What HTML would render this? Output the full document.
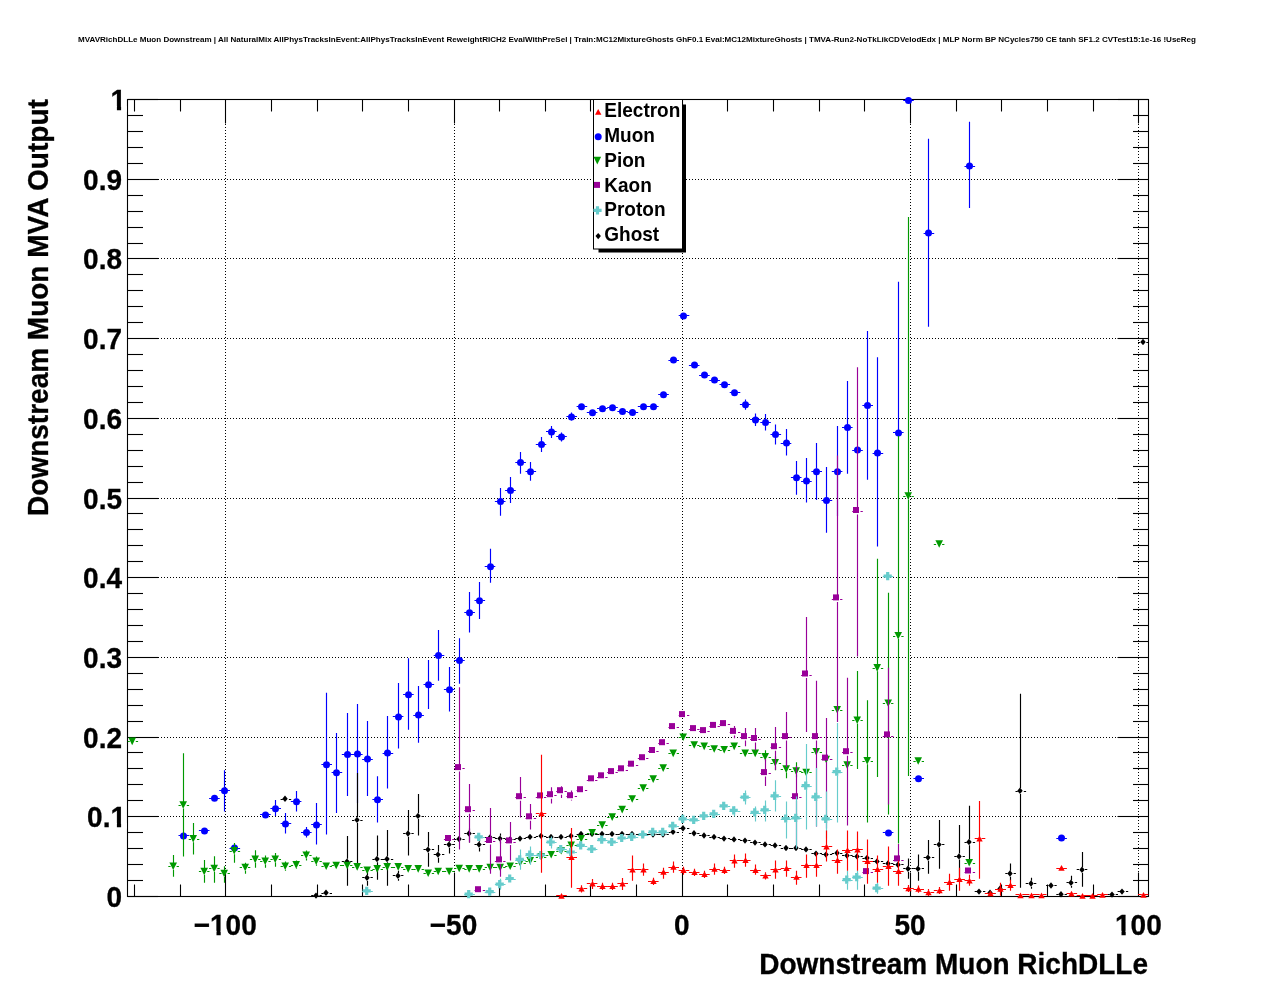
<!DOCTYPE html><html><head><meta charset="utf-8"><title>chart</title><style>html,body{margin:0;padding:0;background:#fff}body{width:1276px;height:996px;position:relative;overflow:hidden}</style></head><body><svg width="1276" height="996" viewBox="0 0 1276 996" style="position:absolute;left:0;top:0;will-change:transform" font-family="Liberation Sans, sans-serif" font-weight="bold">
<rect x="0" y="0" width="1276" height="996" fill="#fff"/>
<g stroke="#000" stroke-width="1" stroke-dasharray="1 2" fill="none" shape-rendering="crispEdges">
<line x1="225.5" y1="99.5" x2="225.5" y2="896.5"/>
<line x1="454.5" y1="99.5" x2="454.5" y2="896.5"/>
<line x1="682.5" y1="99.5" x2="682.5" y2="896.5"/>
<line x1="910.5" y1="99.5" x2="910.5" y2="896.5"/>
<line x1="1138.5" y1="99.5" x2="1138.5" y2="896.5"/>
<line x1="127.5" y1="816.5" x2="1148.5" y2="816.5"/>
<line x1="127.5" y1="737.5" x2="1148.5" y2="737.5"/>
<line x1="127.5" y1="657.5" x2="1148.5" y2="657.5"/>
<line x1="127.5" y1="577.5" x2="1148.5" y2="577.5"/>
<line x1="127.5" y1="498.5" x2="1148.5" y2="498.5"/>
<line x1="127.5" y1="418.5" x2="1148.5" y2="418.5"/>
<line x1="127.5" y1="338.5" x2="1148.5" y2="338.5"/>
<line x1="127.5" y1="258.5" x2="1148.5" y2="258.5"/>
<line x1="127.5" y1="179.5" x2="1148.5" y2="179.5"/>
</g>
<g stroke="#000" stroke-width="1.1" fill="none">
<rect x="127.5" y="99.5" width="1021.0" height="797.0"/>
<line x1="134.5" y1="896.5" x2="134.5" y2="884.5"/>
<line x1="134.5" y1="99.5" x2="134.5" y2="111.5"/>
<line x1="180.5" y1="896.5" x2="180.5" y2="884.5"/>
<line x1="180.5" y1="99.5" x2="180.5" y2="111.5"/>
<line x1="225.5" y1="896.5" x2="225.5" y2="872.5"/>
<line x1="225.5" y1="99.5" x2="225.5" y2="123.5"/>
<line x1="271.5" y1="896.5" x2="271.5" y2="884.5"/>
<line x1="271.5" y1="99.5" x2="271.5" y2="111.5"/>
<line x1="317.5" y1="896.5" x2="317.5" y2="884.5"/>
<line x1="317.5" y1="99.5" x2="317.5" y2="111.5"/>
<line x1="362.5" y1="896.5" x2="362.5" y2="884.5"/>
<line x1="362.5" y1="99.5" x2="362.5" y2="111.5"/>
<line x1="408.5" y1="896.5" x2="408.5" y2="884.5"/>
<line x1="408.5" y1="99.5" x2="408.5" y2="111.5"/>
<line x1="454.5" y1="896.5" x2="454.5" y2="872.5"/>
<line x1="454.5" y1="99.5" x2="454.5" y2="123.5"/>
<line x1="499.5" y1="896.5" x2="499.5" y2="884.5"/>
<line x1="499.5" y1="99.5" x2="499.5" y2="111.5"/>
<line x1="545.5" y1="896.5" x2="545.5" y2="884.5"/>
<line x1="545.5" y1="99.5" x2="545.5" y2="111.5"/>
<line x1="590.5" y1="896.5" x2="590.5" y2="884.5"/>
<line x1="590.5" y1="99.5" x2="590.5" y2="111.5"/>
<line x1="636.5" y1="896.5" x2="636.5" y2="884.5"/>
<line x1="636.5" y1="99.5" x2="636.5" y2="111.5"/>
<line x1="682.5" y1="896.5" x2="682.5" y2="872.5"/>
<line x1="682.5" y1="99.5" x2="682.5" y2="123.5"/>
<line x1="727.5" y1="896.5" x2="727.5" y2="884.5"/>
<line x1="727.5" y1="99.5" x2="727.5" y2="111.5"/>
<line x1="773.5" y1="896.5" x2="773.5" y2="884.5"/>
<line x1="773.5" y1="99.5" x2="773.5" y2="111.5"/>
<line x1="819.5" y1="896.5" x2="819.5" y2="884.5"/>
<line x1="819.5" y1="99.5" x2="819.5" y2="111.5"/>
<line x1="864.5" y1="896.5" x2="864.5" y2="884.5"/>
<line x1="864.5" y1="99.5" x2="864.5" y2="111.5"/>
<line x1="910.5" y1="896.5" x2="910.5" y2="872.5"/>
<line x1="910.5" y1="99.5" x2="910.5" y2="123.5"/>
<line x1="956.5" y1="896.5" x2="956.5" y2="884.5"/>
<line x1="956.5" y1="99.5" x2="956.5" y2="111.5"/>
<line x1="1001.5" y1="896.5" x2="1001.5" y2="884.5"/>
<line x1="1001.5" y1="99.5" x2="1001.5" y2="111.5"/>
<line x1="1047.5" y1="896.5" x2="1047.5" y2="884.5"/>
<line x1="1047.5" y1="99.5" x2="1047.5" y2="111.5"/>
<line x1="1093.5" y1="896.5" x2="1093.5" y2="884.5"/>
<line x1="1093.5" y1="99.5" x2="1093.5" y2="111.5"/>
<line x1="1138.5" y1="896.5" x2="1138.5" y2="872.5"/>
<line x1="1138.5" y1="99.5" x2="1138.5" y2="123.5"/>
<line x1="127.5" y1="896.5" x2="158.5" y2="896.5"/>
<line x1="1148.5" y1="896.5" x2="1117.5" y2="896.5"/>
<line x1="127.5" y1="880.5" x2="143.0" y2="880.5"/>
<line x1="1148.5" y1="880.5" x2="1133.0" y2="880.5"/>
<line x1="127.5" y1="864.5" x2="143.0" y2="864.5"/>
<line x1="1148.5" y1="864.5" x2="1133.0" y2="864.5"/>
<line x1="127.5" y1="848.5" x2="143.0" y2="848.5"/>
<line x1="1148.5" y1="848.5" x2="1133.0" y2="848.5"/>
<line x1="127.5" y1="832.5" x2="143.0" y2="832.5"/>
<line x1="1148.5" y1="832.5" x2="1133.0" y2="832.5"/>
<line x1="127.5" y1="816.5" x2="158.5" y2="816.5"/>
<line x1="1148.5" y1="816.5" x2="1117.5" y2="816.5"/>
<line x1="127.5" y1="800.5" x2="143.0" y2="800.5"/>
<line x1="1148.5" y1="800.5" x2="1133.0" y2="800.5"/>
<line x1="127.5" y1="784.5" x2="143.0" y2="784.5"/>
<line x1="1148.5" y1="784.5" x2="1133.0" y2="784.5"/>
<line x1="127.5" y1="768.5" x2="143.0" y2="768.5"/>
<line x1="1148.5" y1="768.5" x2="1133.0" y2="768.5"/>
<line x1="127.5" y1="752.5" x2="143.0" y2="752.5"/>
<line x1="1148.5" y1="752.5" x2="1133.0" y2="752.5"/>
<line x1="127.5" y1="737.5" x2="158.5" y2="737.5"/>
<line x1="1148.5" y1="737.5" x2="1117.5" y2="737.5"/>
<line x1="127.5" y1="721.5" x2="143.0" y2="721.5"/>
<line x1="1148.5" y1="721.5" x2="1133.0" y2="721.5"/>
<line x1="127.5" y1="705.5" x2="143.0" y2="705.5"/>
<line x1="1148.5" y1="705.5" x2="1133.0" y2="705.5"/>
<line x1="127.5" y1="689.5" x2="143.0" y2="689.5"/>
<line x1="1148.5" y1="689.5" x2="1133.0" y2="689.5"/>
<line x1="127.5" y1="673.5" x2="143.0" y2="673.5"/>
<line x1="1148.5" y1="673.5" x2="1133.0" y2="673.5"/>
<line x1="127.5" y1="657.5" x2="158.5" y2="657.5"/>
<line x1="1148.5" y1="657.5" x2="1117.5" y2="657.5"/>
<line x1="127.5" y1="641.5" x2="143.0" y2="641.5"/>
<line x1="1148.5" y1="641.5" x2="1133.0" y2="641.5"/>
<line x1="127.5" y1="625.5" x2="143.0" y2="625.5"/>
<line x1="1148.5" y1="625.5" x2="1133.0" y2="625.5"/>
<line x1="127.5" y1="609.5" x2="143.0" y2="609.5"/>
<line x1="1148.5" y1="609.5" x2="1133.0" y2="609.5"/>
<line x1="127.5" y1="593.5" x2="143.0" y2="593.5"/>
<line x1="1148.5" y1="593.5" x2="1133.0" y2="593.5"/>
<line x1="127.5" y1="577.5" x2="158.5" y2="577.5"/>
<line x1="1148.5" y1="577.5" x2="1117.5" y2="577.5"/>
<line x1="127.5" y1="561.5" x2="143.0" y2="561.5"/>
<line x1="1148.5" y1="561.5" x2="1133.0" y2="561.5"/>
<line x1="127.5" y1="545.5" x2="143.0" y2="545.5"/>
<line x1="1148.5" y1="545.5" x2="1133.0" y2="545.5"/>
<line x1="127.5" y1="529.5" x2="143.0" y2="529.5"/>
<line x1="1148.5" y1="529.5" x2="1133.0" y2="529.5"/>
<line x1="127.5" y1="513.5" x2="143.0" y2="513.5"/>
<line x1="1148.5" y1="513.5" x2="1133.0" y2="513.5"/>
<line x1="127.5" y1="498.5" x2="158.5" y2="498.5"/>
<line x1="1148.5" y1="498.5" x2="1117.5" y2="498.5"/>
<line x1="127.5" y1="482.5" x2="143.0" y2="482.5"/>
<line x1="1148.5" y1="482.5" x2="1133.0" y2="482.5"/>
<line x1="127.5" y1="466.5" x2="143.0" y2="466.5"/>
<line x1="1148.5" y1="466.5" x2="1133.0" y2="466.5"/>
<line x1="127.5" y1="450.5" x2="143.0" y2="450.5"/>
<line x1="1148.5" y1="450.5" x2="1133.0" y2="450.5"/>
<line x1="127.5" y1="434.5" x2="143.0" y2="434.5"/>
<line x1="1148.5" y1="434.5" x2="1133.0" y2="434.5"/>
<line x1="127.5" y1="418.5" x2="158.5" y2="418.5"/>
<line x1="1148.5" y1="418.5" x2="1117.5" y2="418.5"/>
<line x1="127.5" y1="402.5" x2="143.0" y2="402.5"/>
<line x1="1148.5" y1="402.5" x2="1133.0" y2="402.5"/>
<line x1="127.5" y1="386.5" x2="143.0" y2="386.5"/>
<line x1="1148.5" y1="386.5" x2="1133.0" y2="386.5"/>
<line x1="127.5" y1="370.5" x2="143.0" y2="370.5"/>
<line x1="1148.5" y1="370.5" x2="1133.0" y2="370.5"/>
<line x1="127.5" y1="354.5" x2="143.0" y2="354.5"/>
<line x1="1148.5" y1="354.5" x2="1133.0" y2="354.5"/>
<line x1="127.5" y1="338.5" x2="158.5" y2="338.5"/>
<line x1="1148.5" y1="338.5" x2="1117.5" y2="338.5"/>
<line x1="127.5" y1="322.5" x2="143.0" y2="322.5"/>
<line x1="1148.5" y1="322.5" x2="1133.0" y2="322.5"/>
<line x1="127.5" y1="306.5" x2="143.0" y2="306.5"/>
<line x1="1148.5" y1="306.5" x2="1133.0" y2="306.5"/>
<line x1="127.5" y1="290.5" x2="143.0" y2="290.5"/>
<line x1="1148.5" y1="290.5" x2="1133.0" y2="290.5"/>
<line x1="127.5" y1="274.5" x2="143.0" y2="274.5"/>
<line x1="1148.5" y1="274.5" x2="1133.0" y2="274.5"/>
<line x1="127.5" y1="258.5" x2="158.5" y2="258.5"/>
<line x1="1148.5" y1="258.5" x2="1117.5" y2="258.5"/>
<line x1="127.5" y1="243.5" x2="143.0" y2="243.5"/>
<line x1="1148.5" y1="243.5" x2="1133.0" y2="243.5"/>
<line x1="127.5" y1="227.5" x2="143.0" y2="227.5"/>
<line x1="1148.5" y1="227.5" x2="1133.0" y2="227.5"/>
<line x1="127.5" y1="211.5" x2="143.0" y2="211.5"/>
<line x1="1148.5" y1="211.5" x2="1133.0" y2="211.5"/>
<line x1="127.5" y1="195.5" x2="143.0" y2="195.5"/>
<line x1="1148.5" y1="195.5" x2="1133.0" y2="195.5"/>
<line x1="127.5" y1="179.5" x2="158.5" y2="179.5"/>
<line x1="1148.5" y1="179.5" x2="1117.5" y2="179.5"/>
<line x1="127.5" y1="163.5" x2="143.0" y2="163.5"/>
<line x1="1148.5" y1="163.5" x2="1133.0" y2="163.5"/>
<line x1="127.5" y1="147.5" x2="143.0" y2="147.5"/>
<line x1="1148.5" y1="147.5" x2="1133.0" y2="147.5"/>
<line x1="127.5" y1="131.5" x2="143.0" y2="131.5"/>
<line x1="1148.5" y1="131.5" x2="1133.0" y2="131.5"/>
<line x1="127.5" y1="115.5" x2="143.0" y2="115.5"/>
<line x1="1148.5" y1="115.5" x2="1133.0" y2="115.5"/>
<line x1="127.5" y1="99.5" x2="158.5" y2="99.5"/>
<line x1="1148.5" y1="99.5" x2="1117.5" y2="99.5"/>
</g>
<clipPath id="cp"><rect x="127.5" y="95.5" width="1021.0" height="801.5"/></clipPath>
<clipPath id="cpm"><rect x="122.5" y="94.5" width="1031.0" height="807.0"/></clipPath>
<g>
<g stroke="#0000ff" stroke-width="1.15" fill="none" clip-path="url(#cp)">
<path d="M178.5 835.5H180.8M186.8 835.5H189.1"/>
<path d="M198.9 830.5H201.2M207.2 830.5H209.5"/>
<path d="M209.1 798.5H211.4M217.4 798.5H219.7"/>
<path d="M219.3 790.5H221.6M227.6 790.5H229.9"/>
<path d="M224.5 770.3V787.8M224.5 793.8V811.4"/>
<path d="M229.5 848.5H231.8M237.8 848.5H240.1"/>
<path d="M260.1 814.5H262.4M268.4 814.5H270.7"/>
<path d="M270.4 808.5H272.7M278.7 808.5H281.0"/>
<path d="M275.5 800.0V805.8M275.5 811.8V816.0"/>
<path d="M280.6 823.5H282.9M288.9 823.5H291.2"/>
<path d="M285.5 813.0V820.9M285.5 826.9V833.5"/>
<path d="M290.8 801.5H293.1M299.1 801.5H301.4"/>
<path d="M296.5 791.0V798.8M296.5 804.8V811.4"/>
<path d="M301.0 832.5H303.3M309.3 832.5H311.6"/>
<path d="M306.5 827.0V829.5M306.5 835.5V837.5"/>
<path d="M311.2 824.5H313.5M319.5 824.5H321.8"/>
<path d="M316.5 803.0V821.9M316.5 827.9V844.6"/>
<path d="M321.4 764.5H323.7M329.7 764.5H332.0"/>
<path d="M326.5 692.8V761.7M326.5 767.7V834.5"/>
<path d="M331.6 772.5H333.9M339.9 772.5H342.2"/>
<path d="M336.5 733.0V769.7M336.5 775.7V812.9"/>
<path d="M341.8 754.5H344.1M350.1 754.5H352.4"/>
<path d="M347.5 713.0V751.6M347.5 757.6V796.0"/>
<path d="M352.0 754.5H354.3M360.3 754.5H362.6"/>
<path d="M357.5 704.0V751.0M357.5 757.0V803.0"/>
<path d="M362.2 759.5H364.5M370.5 759.5H372.8"/>
<path d="M367.5 721.0V756.0M367.5 762.0V796.0"/>
<path d="M372.4 799.5H374.7M380.7 799.5H383.0"/>
<path d="M377.5 776.3V796.8M377.5 802.8V822.5"/>
<path d="M382.6 753.5H384.9M390.9 753.5H393.2"/>
<path d="M387.5 716.0V750.0M387.5 756.0V788.4"/>
<path d="M392.8 716.5H395.1M401.1 716.5H403.4"/>
<path d="M398.5 683.0V713.9M398.5 719.9V748.6"/>
<path d="M403.1 694.5H405.4M411.4 694.5H413.7"/>
<path d="M408.5 658.2V691.8M408.5 697.8V729.7"/>
<path d="M413.3 715.5H415.6M421.6 715.5H423.9"/>
<path d="M418.5 686.0V712.1M418.5 718.1V742.8"/>
<path d="M423.5 684.5H425.8M431.8 684.5H434.1"/>
<path d="M428.5 660.0V681.7M428.5 687.7V709.0"/>
<path d="M433.7 655.5H436.0M442.0 655.5H444.3"/>
<path d="M438.5 630.1V652.6M438.5 658.6V680.7"/>
<path d="M443.9 689.5H446.2M452.2 689.5H454.5"/>
<path d="M449.5 667.0V686.8M449.5 692.8V711.6"/>
<path d="M454.1 660.5H456.4M462.4 660.5H464.7"/>
<path d="M459.5 638.2V657.6M459.5 663.6V683.7"/>
<path d="M464.3 612.5H466.6M472.6 612.5H474.9"/>
<path d="M469.5 592.0V609.8M469.5 615.8V632.5"/>
<path d="M474.5 600.5H476.8M482.8 600.5H485.1"/>
<path d="M479.5 582.0V597.8M479.5 603.8V618.9"/>
<path d="M484.7 566.5H487.0M493.0 566.5H495.3"/>
<path d="M490.5 548.8V563.7M490.5 569.7V582.7"/>
<path d="M494.9 501.5H497.2M503.2 501.5H505.5"/>
<path d="M500.5 488.0V498.4M500.5 504.4V515.7"/>
<path d="M505.1 490.5H507.4M513.4 490.5H515.7"/>
<path d="M510.5 477.0V487.6M510.5 493.6V503.0"/>
<path d="M515.3 462.5H517.6M523.6 462.5H525.9"/>
<path d="M520.5 452.0V459.6M520.5 465.6V473.7"/>
<path d="M525.5 471.5H527.8M533.8 471.5H536.1"/>
<path d="M530.5 462.0V468.7M530.5 474.7V480.7"/>
<path d="M535.8 444.5H538.0M544.0 444.5H546.3"/>
<path d="M541.5 437.0V441.6M541.5 447.6V452.0"/>
<path d="M546.0 431.5H548.3M554.3 431.5H556.6"/>
<path d="M551.5 426.0V428.9M551.5 434.9V438.0"/>
<path d="M556.2 436.5H558.5M564.5 436.5H566.8"/>
<path d="M561.5 432.5V433.9M561.5 439.9V441.6"/>
<path d="M566.4 416.5H568.7M574.7 416.5H577.0"/>
<path d="M571.5 412.5V413.9M571.5 419.9V420.5"/>
<path d="M576.6 406.5H578.9M584.9 406.5H587.2"/>
<path d="M586.8 412.5H589.1M595.1 412.5H597.4"/>
<path d="M597.0 408.5H599.3M605.3 408.5H607.6"/>
<path d="M607.2 407.5H609.5M615.5 407.5H617.8"/>
<path d="M617.4 411.5H619.7M625.7 411.5H628.0"/>
<path d="M627.6 412.5H629.9M635.9 412.5H638.2"/>
<path d="M637.8 406.5H640.1M646.1 406.5H648.4"/>
<path d="M648.0 406.5H650.3M656.3 406.5H658.6"/>
<path d="M658.2 394.5H660.5M666.5 394.5H668.8"/>
<path d="M668.4 360.5H670.7M676.7 360.5H679.0"/>
<path d="M678.7 315.5H681.0M687.0 315.5H689.3"/>
<path d="M688.9 365.5H691.2M697.2 365.5H699.5"/>
<path d="M699.1 375.5H701.4M707.4 375.5H709.7"/>
<path d="M709.3 380.5H711.6M717.6 380.5H719.9"/>
<path d="M719.5 384.5H721.8M727.8 384.5H730.1"/>
<path d="M729.7 392.5H732.0M738.0 392.5H740.3"/>
<path d="M739.9 404.5H742.2M748.2 404.5H750.5"/>
<path d="M745.5 399.4V401.8M745.5 407.8V409.8"/>
<path d="M750.1 419.5H752.4M758.4 419.5H760.7"/>
<path d="M755.5 413.5V416.9M755.5 422.9V426.0"/>
<path d="M760.3 422.5H762.6M768.6 422.5H770.9"/>
<path d="M765.5 414.0V419.5M765.5 425.5V430.5"/>
<path d="M770.5 434.5H772.8M778.8 434.5H781.1"/>
<path d="M775.5 424.5V431.5M775.5 437.5V444.6"/>
<path d="M780.7 443.5H783.0M789.0 443.5H791.3"/>
<path d="M786.5 429.0V440.0M786.5 446.0V455.6"/>
<path d="M790.9 477.5H793.2M799.2 477.5H801.5"/>
<path d="M796.5 461.0V474.7M796.5 480.7V494.8"/>
<path d="M801.1 481.5H803.4M809.4 481.5H811.7"/>
<path d="M806.5 458.0V478.1M806.5 484.1V502.4"/>
<path d="M811.4 471.5H813.7M819.7 471.5H822.0"/>
<path d="M816.5 443.0V468.7M816.5 474.7V500.0"/>
<path d="M821.6 500.5H823.9M829.9 500.5H832.2"/>
<path d="M826.5 467.0V497.4M826.5 503.4V532.7"/>
<path d="M831.8 471.5H834.1M840.1 471.5H842.4"/>
<path d="M837.5 426.0V468.7M837.5 474.7V516.0"/>
<path d="M842.0 427.5H844.3M850.3 427.5H852.6"/>
<path d="M847.5 381.0V424.5M847.5 430.5V473.7"/>
<path d="M852.2 450.5H854.5M860.5 450.5H862.8"/>
<path d="M862.4 405.5H864.7M870.7 405.5H873.0"/>
<path d="M867.5 331.0V402.4M867.5 408.4V479.7"/>
<path d="M872.6 453.5H874.9M880.9 453.5H883.2"/>
<path d="M877.5 357.2V450.0M877.5 456.0V546.6"/>
<path d="M882.8 832.5H885.1M891.1 832.5H893.4"/>
<path d="M893.0 432.5H895.3M901.3 432.5H903.6"/>
<path d="M898.5 281.8V429.9M898.5 435.9V436.0"/>
<path d="M903.2 100.5H905.5M911.5 100.5H913.8"/>
<path d="M913.4 778.5H915.7M921.7 778.5H924.0"/>
<path d="M923.6 233.5H925.9M931.9 233.5H934.2"/>
<path d="M928.5 138.8V230.0M928.5 236.0V326.7"/>
<path d="M964.5 166.5H966.8M972.8 166.5H975.1"/>
<path d="M969.5 121.7V163.1M969.5 169.1V207.9"/>
<path d="M1056.3 838.5H1058.6M1064.6 838.5H1066.9"/>
</g><g clip-path="url(#cpm)">
<circle cx="183.5" cy="835.9" r="3.5" fill="#0000ff"/>
<circle cx="204.5" cy="830.9" r="3.5" fill="#0000ff"/>
<circle cx="214.5" cy="798.2" r="3.5" fill="#0000ff"/>
<circle cx="224.5" cy="790.8" r="3.5" fill="#0000ff"/>
<circle cx="234.5" cy="848.0" r="3.5" fill="#0000ff"/>
<circle cx="265.5" cy="814.9" r="3.5" fill="#0000ff"/>
<circle cx="275.5" cy="808.8" r="3.5" fill="#0000ff"/>
<circle cx="285.5" cy="823.9" r="3.5" fill="#0000ff"/>
<circle cx="296.5" cy="801.8" r="3.5" fill="#0000ff"/>
<circle cx="306.5" cy="832.5" r="3.5" fill="#0000ff"/>
<circle cx="316.5" cy="824.9" r="3.5" fill="#0000ff"/>
<circle cx="326.5" cy="764.7" r="3.5" fill="#0000ff"/>
<circle cx="336.5" cy="772.7" r="3.5" fill="#0000ff"/>
<circle cx="347.5" cy="754.6" r="3.5" fill="#0000ff"/>
<circle cx="357.5" cy="754.0" r="3.5" fill="#0000ff"/>
<circle cx="367.5" cy="759.0" r="3.5" fill="#0000ff"/>
<circle cx="377.5" cy="799.8" r="3.5" fill="#0000ff"/>
<circle cx="387.5" cy="753.0" r="3.5" fill="#0000ff"/>
<circle cx="398.5" cy="716.9" r="3.5" fill="#0000ff"/>
<circle cx="408.5" cy="694.8" r="3.5" fill="#0000ff"/>
<circle cx="418.5" cy="715.1" r="3.5" fill="#0000ff"/>
<circle cx="428.5" cy="684.7" r="3.5" fill="#0000ff"/>
<circle cx="438.5" cy="655.6" r="3.5" fill="#0000ff"/>
<circle cx="449.5" cy="689.8" r="3.5" fill="#0000ff"/>
<circle cx="459.5" cy="660.6" r="3.5" fill="#0000ff"/>
<circle cx="469.5" cy="612.8" r="3.5" fill="#0000ff"/>
<circle cx="479.5" cy="600.8" r="3.5" fill="#0000ff"/>
<circle cx="490.5" cy="566.7" r="3.5" fill="#0000ff"/>
<circle cx="500.5" cy="501.4" r="3.5" fill="#0000ff"/>
<circle cx="510.5" cy="490.6" r="3.5" fill="#0000ff"/>
<circle cx="520.5" cy="462.6" r="3.5" fill="#0000ff"/>
<circle cx="530.5" cy="471.7" r="3.5" fill="#0000ff"/>
<circle cx="541.5" cy="444.6" r="3.5" fill="#0000ff"/>
<circle cx="551.5" cy="431.9" r="3.5" fill="#0000ff"/>
<circle cx="561.5" cy="436.9" r="3.5" fill="#0000ff"/>
<circle cx="571.5" cy="416.9" r="3.5" fill="#0000ff"/>
<circle cx="581.5" cy="406.8" r="3.5" fill="#0000ff"/>
<circle cx="592.5" cy="412.8" r="3.5" fill="#0000ff"/>
<circle cx="602.5" cy="408.8" r="3.5" fill="#0000ff"/>
<circle cx="612.5" cy="407.8" r="3.5" fill="#0000ff"/>
<circle cx="622.5" cy="411.4" r="3.5" fill="#0000ff"/>
<circle cx="632.5" cy="412.4" r="3.5" fill="#0000ff"/>
<circle cx="643.5" cy="406.8" r="3.5" fill="#0000ff"/>
<circle cx="653.5" cy="406.8" r="3.5" fill="#0000ff"/>
<circle cx="663.5" cy="394.8" r="3.5" fill="#0000ff"/>
<circle cx="673.5" cy="360.0" r="3.5" fill="#0000ff"/>
<circle cx="683.5" cy="315.9" r="3.5" fill="#0000ff"/>
<circle cx="694.5" cy="365.1" r="3.5" fill="#0000ff"/>
<circle cx="704.5" cy="375.1" r="3.5" fill="#0000ff"/>
<circle cx="714.5" cy="380.1" r="3.5" fill="#0000ff"/>
<circle cx="724.5" cy="384.7" r="3.5" fill="#0000ff"/>
<circle cx="734.5" cy="392.8" r="3.5" fill="#0000ff"/>
<circle cx="745.5" cy="404.8" r="3.5" fill="#0000ff"/>
<circle cx="755.5" cy="419.9" r="3.5" fill="#0000ff"/>
<circle cx="765.5" cy="422.5" r="3.5" fill="#0000ff"/>
<circle cx="775.5" cy="434.5" r="3.5" fill="#0000ff"/>
<circle cx="786.5" cy="443.0" r="3.5" fill="#0000ff"/>
<circle cx="796.5" cy="477.7" r="3.5" fill="#0000ff"/>
<circle cx="806.5" cy="481.1" r="3.5" fill="#0000ff"/>
<circle cx="816.5" cy="471.7" r="3.5" fill="#0000ff"/>
<circle cx="826.5" cy="500.4" r="3.5" fill="#0000ff"/>
<circle cx="837.5" cy="471.7" r="3.5" fill="#0000ff"/>
<circle cx="847.5" cy="427.5" r="3.5" fill="#0000ff"/>
<circle cx="857.5" cy="450.0" r="3.5" fill="#0000ff"/>
<circle cx="867.5" cy="405.4" r="3.5" fill="#0000ff"/>
<circle cx="877.5" cy="453.0" r="3.5" fill="#0000ff"/>
<circle cx="888.5" cy="832.9" r="3.5" fill="#0000ff"/>
<circle cx="898.5" cy="432.9" r="3.5" fill="#0000ff"/>
<circle cx="908.5" cy="100.4" r="3.5" fill="#0000ff"/>
<circle cx="918.5" cy="778.7" r="3.5" fill="#0000ff"/>
<circle cx="928.5" cy="233.0" r="3.5" fill="#0000ff"/>
<circle cx="969.5" cy="166.1" r="3.5" fill="#0000ff"/>
<circle cx="1061.5" cy="838.0" r="3.5" fill="#0000ff"/>
</g>
<g stroke="#000000" stroke-width="1.15" fill="none" clip-path="url(#cp)">
<path d="M280.6 799.5H282.9M288.9 799.5H291.2"/>
<path d="M311.2 895.5H313.5M319.5 895.5H321.8"/>
<path d="M321.4 893.5H323.7M329.7 893.5H332.0"/>
<path d="M341.8 861.5H344.1M350.1 861.5H352.4"/>
<path d="M347.5 836.0V858.8M347.5 864.8V885.7"/>
<path d="M352.0 820.5H354.3M360.3 820.5H362.6"/>
<path d="M357.5 773.0V817.1M357.5 823.1V866.7"/>
<path d="M362.2 877.5H364.5M370.5 877.5H372.8"/>
<path d="M367.5 870.7V874.9M367.5 880.9V885.7"/>
<path d="M372.4 859.5H374.7M380.7 859.5H383.0"/>
<path d="M377.5 835.5V856.2M377.5 862.2V879.7"/>
<path d="M382.6 859.5H384.9M390.9 859.5H393.2"/>
<path d="M387.5 830.0V856.2M387.5 862.2V885.7"/>
<path d="M392.8 875.5H395.1M401.1 875.5H403.4"/>
<path d="M398.5 870.7V872.9M398.5 878.9V880.7"/>
<path d="M403.1 833.5H405.4M411.4 833.5H413.7"/>
<path d="M408.5 810.0V830.7M408.5 836.7V855.6"/>
<path d="M413.3 816.5H415.6M421.6 816.5H423.9"/>
<path d="M418.5 794.0V813.1M418.5 819.1V835.5"/>
<path d="M423.5 849.5H425.8M431.8 849.5H434.1"/>
<path d="M428.5 832.0V846.8M428.5 852.8V866.7"/>
<path d="M433.7 854.5H436.0M442.0 854.5H444.3"/>
<path d="M438.5 845.0V851.8M438.5 857.8V862.7"/>
<path d="M443.9 844.5H446.2M452.2 844.5H454.5"/>
<path d="M449.5 836.5V841.8M449.5 847.8V853.6"/>
<path d="M454.1 839.5H456.4M462.4 839.5H464.7"/>
<path d="M464.3 833.5H466.6M472.6 833.5H474.9"/>
<path d="M469.5 828.5V830.7M469.5 836.7V842.6"/>
<path d="M474.5 844.5H476.8M482.8 844.5H485.1"/>
<path d="M479.5 838.6V841.8M479.5 847.8V851.6"/>
<path d="M484.7 837.5H487.0M493.0 837.5H495.3"/>
<path d="M494.9 838.5H497.2M503.2 838.5H505.5"/>
<path d="M500.5 833.5V835.8M500.5 841.8V843.6"/>
<path d="M505.1 839.5H507.4M513.4 839.5H515.7"/>
<path d="M515.3 838.5H517.6M523.6 838.5H525.9"/>
<path d="M525.5 837.5H527.8M533.8 837.5H536.1"/>
<path d="M535.8 836.5H538.0M544.0 836.5H546.3"/>
<path d="M546.0 837.5H548.3M554.3 837.5H556.6"/>
<path d="M556.2 837.5H558.5M564.5 837.5H566.8"/>
<path d="M566.4 836.5H568.7M574.7 836.5H577.0"/>
<path d="M576.6 834.5H578.9M584.9 834.5H587.2"/>
<path d="M586.8 834.5H589.1M595.1 834.5H597.4"/>
<path d="M597.0 834.5H599.3M605.3 834.5H607.6"/>
<path d="M607.2 834.5H609.5M615.5 834.5H617.8"/>
<path d="M617.4 834.5H619.7M625.7 834.5H628.0"/>
<path d="M627.6 834.5H629.9M635.9 834.5H638.2"/>
<path d="M637.8 834.5H640.1M646.1 834.5H648.4"/>
<path d="M648.0 834.5H650.3M656.3 834.5H658.6"/>
<path d="M658.2 834.5H660.5M666.5 834.5H668.8"/>
<path d="M668.4 832.5H670.7M676.7 832.5H679.0"/>
<path d="M678.7 828.5H681.0M687.0 828.5H689.3"/>
<path d="M688.9 833.5H691.2M697.2 833.5H699.5"/>
<path d="M699.1 835.5H701.4M707.4 835.5H709.7"/>
<path d="M709.3 837.5H711.6M717.6 837.5H719.9"/>
<path d="M719.5 838.5H721.8M727.8 838.5H730.1"/>
<path d="M729.7 839.5H732.0M738.0 839.5H740.3"/>
<path d="M739.9 840.5H742.2M748.2 840.5H750.5"/>
<path d="M750.1 842.5H752.4M758.4 842.5H760.7"/>
<path d="M760.3 844.5H762.6M768.6 844.5H770.9"/>
<path d="M770.5 845.5H772.8M778.8 845.5H781.1"/>
<path d="M780.7 848.5H783.0M789.0 848.5H791.3"/>
<path d="M790.9 848.5H793.2M799.2 848.5H801.5"/>
<path d="M801.1 849.5H803.4M809.4 849.5H811.7"/>
<path d="M811.4 853.5H813.7M819.7 853.5H822.0"/>
<path d="M821.6 854.5H823.9M829.9 854.5H832.2"/>
<path d="M831.8 853.5H834.1M840.1 853.5H842.4"/>
<path d="M842.0 855.5H844.3M850.3 855.5H852.6"/>
<path d="M852.2 856.5H854.5M860.5 856.5H862.8"/>
<path d="M862.4 858.5H864.7M870.7 858.5H873.0"/>
<path d="M872.6 861.5H874.9M880.9 861.5H883.2"/>
<path d="M882.8 863.5H885.1M891.1 863.5H893.4"/>
<path d="M893.0 864.5H895.3M901.3 864.5H903.6"/>
<path d="M903.2 868.5H905.5M911.5 868.5H913.8"/>
<path d="M908.5 858.6V865.9M908.5 871.9V878.7"/>
<path d="M913.4 868.5H915.7M921.7 868.5H924.0"/>
<path d="M918.5 854.6V865.9M918.5 871.9V880.7"/>
<path d="M923.6 857.5H925.9M931.9 857.5H934.2"/>
<path d="M928.5 840.0V854.8M928.5 860.8V873.7"/>
<path d="M933.8 844.5H936.1M942.1 844.5H944.4"/>
<path d="M939.5 820.0V841.8M939.5 847.8V868.7"/>
<path d="M954.3 856.5H956.6M962.6 856.5H964.9"/>
<path d="M959.5 825.0V853.6M959.5 859.6V876.7"/>
<path d="M964.5 842.5H966.8M972.8 842.5H975.1"/>
<path d="M969.5 805.8V839.2M969.5 845.2V860.6"/>
<path d="M974.7 891.5H977.0M983.0 891.5H985.3"/>
<path d="M984.9 893.5H987.2M993.2 893.5H995.5"/>
<path d="M995.1 889.5H997.4M1003.4 889.5H1005.7"/>
<path d="M1005.3 873.5H1007.6M1013.6 873.5H1015.9"/>
<path d="M1010.5 863.6V870.7M1010.5 876.7V880.7"/>
<path d="M1015.5 791.5H1017.8M1023.8 791.5H1026.1"/>
<path d="M1020.5 693.8V788.0M1020.5 794.0V887.8"/>
<path d="M1025.7 883.5H1028.0M1034.0 883.5H1036.3"/>
<path d="M1031.5 877.7V880.7M1031.5 886.7V888.8"/>
<path d="M1046.1 885.5H1048.4M1054.4 885.5H1056.7"/>
<path d="M1056.3 894.5H1058.6M1064.6 894.5H1066.9"/>
<path d="M1066.5 882.5H1068.8M1074.8 882.5H1077.1"/>
<path d="M1071.5 875.7V879.9M1071.5 885.9V887.8"/>
<path d="M1076.7 869.5H1079.0M1085.0 869.5H1087.3"/>
<path d="M1082.5 852.0V866.9M1082.5 872.9V886.7"/>
<path d="M1107.4 894.5H1109.7M1115.7 894.5H1118.0"/>
<path d="M1117.6 891.5H1119.9M1125.9 891.5H1128.2"/>
<path d="M1138.0 342.5H1140.3M1146.3 342.5H1148.6"/>
</g><g clip-path="url(#cpm)">
<path d="M285.0 795.6L287.7 798.8L285.0 802.0L282.3 798.8Z" fill="#000000"/>
<path d="M316.0 892.4L318.7 895.6L316.0 898.8L313.3 895.6Z" fill="#000000"/>
<path d="M326.0 889.6L328.7 892.8L326.0 896.0L323.3 892.8Z" fill="#000000"/>
<path d="M347.0 858.4L349.7 861.6L347.0 864.8L344.3 861.6Z" fill="#000000"/>
<path d="M357.0 816.7L359.7 819.9L357.0 823.1L354.3 819.9Z" fill="#000000"/>
<path d="M367.0 874.5L369.7 877.7L367.0 880.9L364.3 877.7Z" fill="#000000"/>
<path d="M377.0 855.8L379.7 859.0L377.0 862.2L374.3 859.0Z" fill="#000000"/>
<path d="M387.0 855.8L389.7 859.0L387.0 862.2L384.3 859.0Z" fill="#000000"/>
<path d="M398.0 872.5L400.7 875.7L398.0 878.9L395.3 875.7Z" fill="#000000"/>
<path d="M408.0 830.3L410.7 833.5L408.0 836.7L405.3 833.5Z" fill="#000000"/>
<path d="M418.0 812.7L420.7 815.9L418.0 819.1L415.3 815.9Z" fill="#000000"/>
<path d="M428.0 846.4L430.7 849.6L428.0 852.8L425.3 849.6Z" fill="#000000"/>
<path d="M438.0 851.4L440.7 854.6L438.0 857.8L435.3 854.6Z" fill="#000000"/>
<path d="M449.0 841.4L451.7 844.6L449.0 847.8L446.3 844.6Z" fill="#000000"/>
<path d="M459.0 835.8L461.7 839.0L459.0 842.2L456.3 839.0Z" fill="#000000"/>
<path d="M469.0 830.3L471.7 833.5L469.0 836.7L466.3 833.5Z" fill="#000000"/>
<path d="M479.0 841.4L481.7 844.6L479.0 847.8L476.3 844.6Z" fill="#000000"/>
<path d="M490.0 834.3L492.7 837.5L490.0 840.7L487.3 837.5Z" fill="#000000"/>
<path d="M500.0 835.4L502.7 838.6L500.0 841.8L497.3 838.6Z" fill="#000000"/>
<path d="M510.0 836.2L512.7 839.4L510.0 842.6L507.3 839.4Z" fill="#000000"/>
<path d="M520.0 835.4L522.7 838.6L520.0 841.8L517.3 838.6Z" fill="#000000"/>
<path d="M530.0 833.7L532.7 836.9L530.0 840.1L527.3 836.9Z" fill="#000000"/>
<path d="M541.0 832.7L543.7 835.9L541.0 839.1L538.3 835.9Z" fill="#000000"/>
<path d="M551.0 833.7L553.7 836.9L551.0 840.1L548.3 836.9Z" fill="#000000"/>
<path d="M561.0 833.7L563.7 836.9L561.0 840.1L558.3 836.9Z" fill="#000000"/>
<path d="M571.0 832.7L573.7 835.9L571.0 839.1L568.3 835.9Z" fill="#000000"/>
<path d="M581.0 830.7L583.7 833.9L581.0 837.1L578.3 833.9Z" fill="#000000"/>
<path d="M592.0 830.7L594.7 833.9L592.0 837.1L589.3 833.9Z" fill="#000000"/>
<path d="M602.0 830.7L604.7 833.9L602.0 837.1L599.3 833.9Z" fill="#000000"/>
<path d="M612.0 830.7L614.7 833.9L612.0 837.1L609.3 833.9Z" fill="#000000"/>
<path d="M622.0 830.7L624.7 833.9L622.0 837.1L619.3 833.9Z" fill="#000000"/>
<path d="M632.0 830.7L634.7 833.9L632.0 837.1L629.3 833.9Z" fill="#000000"/>
<path d="M643.0 831.2L645.7 834.4L643.0 837.6L640.3 834.4Z" fill="#000000"/>
<path d="M653.0 831.3L655.7 834.5L653.0 837.7L650.3 834.5Z" fill="#000000"/>
<path d="M663.0 831.3L665.7 834.5L663.0 837.7L660.3 834.5Z" fill="#000000"/>
<path d="M673.0 828.7L675.7 831.9L673.0 835.1L670.3 831.9Z" fill="#000000"/>
<path d="M683.0 825.1L685.7 828.3L683.0 831.5L680.3 828.3Z" fill="#000000"/>
<path d="M694.0 830.1L696.7 833.3L694.0 836.5L691.3 833.3Z" fill="#000000"/>
<path d="M704.0 832.3L706.7 835.5L704.0 838.7L701.3 835.5Z" fill="#000000"/>
<path d="M714.0 833.7L716.7 836.9L714.0 840.1L711.3 836.9Z" fill="#000000"/>
<path d="M724.0 835.4L726.7 838.6L724.0 841.8L721.3 838.6Z" fill="#000000"/>
<path d="M734.0 836.2L736.7 839.4L734.0 842.6L731.3 839.4Z" fill="#000000"/>
<path d="M745.0 837.4L747.7 840.6L745.0 843.8L742.3 840.6Z" fill="#000000"/>
<path d="M755.0 839.4L757.7 842.6L755.0 845.8L752.3 842.6Z" fill="#000000"/>
<path d="M765.0 841.2L767.7 844.4L765.0 847.6L762.3 844.4Z" fill="#000000"/>
<path d="M775.0 842.2L777.7 845.4L775.0 848.6L772.3 845.4Z" fill="#000000"/>
<path d="M786.0 844.8L788.7 848.0L786.0 851.2L783.3 848.0Z" fill="#000000"/>
<path d="M796.0 844.8L798.7 848.0L796.0 851.2L793.3 848.0Z" fill="#000000"/>
<path d="M806.0 846.2L808.7 849.4L806.0 852.6L803.3 849.4Z" fill="#000000"/>
<path d="M816.0 850.4L818.7 853.6L816.0 856.8L813.3 853.6Z" fill="#000000"/>
<path d="M826.0 851.4L828.7 854.6L826.0 857.8L823.3 854.6Z" fill="#000000"/>
<path d="M837.0 849.8L839.7 853.0L837.0 856.2L834.3 853.0Z" fill="#000000"/>
<path d="M847.0 852.4L849.7 855.6L847.0 858.8L844.3 855.6Z" fill="#000000"/>
<path d="M857.0 853.2L859.7 856.4L857.0 859.6L854.3 856.4Z" fill="#000000"/>
<path d="M867.0 854.8L869.7 858.0L867.0 861.2L864.3 858.0Z" fill="#000000"/>
<path d="M877.0 858.2L879.7 861.4L877.0 864.6L874.3 861.4Z" fill="#000000"/>
<path d="M888.0 860.3L890.7 863.5L888.0 866.7L885.3 863.5Z" fill="#000000"/>
<path d="M898.0 861.5L900.7 864.7L898.0 867.9L895.3 864.7Z" fill="#000000"/>
<path d="M908.0 865.5L910.7 868.7L908.0 871.9L905.3 868.7Z" fill="#000000"/>
<path d="M918.0 865.5L920.7 868.7L918.0 871.9L915.3 868.7Z" fill="#000000"/>
<path d="M928.0 854.4L930.7 857.6L928.0 860.8L925.3 857.6Z" fill="#000000"/>
<path d="M939.0 841.4L941.7 844.6L939.0 847.8L936.3 844.6Z" fill="#000000"/>
<path d="M959.0 853.2L961.7 856.4L959.0 859.6L956.3 856.4Z" fill="#000000"/>
<path d="M969.0 838.8L971.7 842.0L969.0 845.2L966.3 842.0Z" fill="#000000"/>
<path d="M979.0 888.4L981.7 891.6L979.0 894.8L976.3 891.6Z" fill="#000000"/>
<path d="M990.0 889.6L992.7 892.8L990.0 896.0L987.3 892.8Z" fill="#000000"/>
<path d="M1000.0 885.6L1002.7 888.8L1000.0 892.0L997.3 888.8Z" fill="#000000"/>
<path d="M1010.0 870.3L1012.7 873.5L1010.0 876.7L1007.3 873.5Z" fill="#000000"/>
<path d="M1020.0 787.6L1022.7 790.8L1020.0 794.0L1017.3 790.8Z" fill="#000000"/>
<path d="M1031.0 880.3L1033.7 883.5L1031.0 886.7L1028.3 883.5Z" fill="#000000"/>
<path d="M1051.0 882.3L1053.7 885.5L1051.0 888.7L1048.3 885.5Z" fill="#000000"/>
<path d="M1061.0 891.0L1063.7 894.2L1061.0 897.4L1058.3 894.2Z" fill="#000000"/>
<path d="M1071.0 879.5L1073.7 882.7L1071.0 885.9L1068.3 882.7Z" fill="#000000"/>
<path d="M1082.0 866.5L1084.7 869.7L1082.0 872.9L1079.3 869.7Z" fill="#000000"/>
<path d="M1112.0 891.4L1114.7 894.6L1112.0 897.8L1109.3 894.6Z" fill="#000000"/>
<path d="M1122.0 888.4L1124.7 891.6L1122.0 894.8L1119.3 891.6Z" fill="#000000"/>
<path d="M1143.0 338.8L1145.7 342.0L1143.0 345.2L1140.3 342.0Z" fill="#000000"/>
</g>
<g stroke="#009900" stroke-width="1.15" fill="none" clip-path="url(#cp)">
<path d="M127.5 741.5H129.8M135.8 741.5H138.1"/>
<path d="M168.3 866.5H170.6M176.6 866.5H178.9"/>
<path d="M173.5 855.0V863.7M173.5 869.7V876.7"/>
<path d="M178.5 805.5H180.8M186.8 805.5H189.1"/>
<path d="M183.5 753.2V802.4M183.5 808.4V856.6"/>
<path d="M188.7 839.5H191.0M197.0 839.5H199.3"/>
<path d="M193.5 823.1V836.2M193.5 842.2V854.6"/>
<path d="M198.9 871.5H201.2M207.2 871.5H209.5"/>
<path d="M204.5 860.0V868.9M204.5 874.9V882.7"/>
<path d="M209.1 868.5H211.4M217.4 868.5H219.7"/>
<path d="M214.5 856.2V865.9M214.5 871.9V882.7"/>
<path d="M219.3 873.5H221.6M227.6 873.5H229.9"/>
<path d="M224.5 866.3V870.9M224.5 876.9V882.7"/>
<path d="M229.5 851.5H231.8M237.8 851.5H240.1"/>
<path d="M234.5 843.0V848.2M234.5 854.2V862.7"/>
<path d="M239.7 867.5H242.0M248.0 867.5H250.3"/>
<path d="M245.5 862.7V864.9M245.5 870.9V873.7"/>
<path d="M249.9 859.5H252.2M258.2 859.5H260.5"/>
<path d="M255.5 850.2V856.8M255.5 862.8V867.7"/>
<path d="M260.1 861.5H262.4M268.4 861.5H270.7"/>
<path d="M265.5 855.6V858.6M265.5 864.6V867.7"/>
<path d="M270.4 859.5H272.7M278.7 859.5H281.0"/>
<path d="M275.5 853.0V856.6M275.5 862.6V866.7"/>
<path d="M280.6 866.5H282.9M288.9 866.5H291.2"/>
<path d="M285.5 861.6V863.7M285.5 869.7V870.7"/>
<path d="M290.8 865.5H293.1M299.1 865.5H301.4"/>
<path d="M296.5 860.6V862.3M296.5 868.3V868.7"/>
<path d="M301.0 855.5H303.3M309.3 855.5H311.6"/>
<path d="M306.5 850.6V852.6M306.5 858.6V860.6"/>
<path d="M311.2 861.5H313.5M319.5 861.5H321.8"/>
<path d="M316.5 856.6V858.6M316.5 864.6V865.7"/>
<path d="M321.4 866.5H323.7M329.7 866.5H332.0"/>
<path d="M331.6 865.5H333.9M339.9 865.5H342.2"/>
<path d="M341.8 865.5H344.1M350.1 865.5H352.4"/>
<path d="M352.0 867.5H354.3M360.3 867.5H362.6"/>
<path d="M362.2 870.5H364.5M370.5 870.5H372.8"/>
<path d="M372.4 869.5H374.7M380.7 869.5H383.0"/>
<path d="M382.6 867.5H384.9M390.9 867.5H393.2"/>
<path d="M392.8 867.5H395.1M401.1 867.5H403.4"/>
<path d="M403.1 869.5H405.4M411.4 869.5H413.7"/>
<path d="M413.3 869.5H415.6M421.6 869.5H423.9"/>
<path d="M423.5 873.5H425.8M431.8 873.5H434.1"/>
<path d="M433.7 871.5H436.0M442.0 871.5H444.3"/>
<path d="M443.9 871.5H446.2M452.2 871.5H454.5"/>
<path d="M454.1 868.5H456.4M462.4 868.5H464.7"/>
<path d="M464.3 869.5H466.6M472.6 869.5H474.9"/>
<path d="M474.5 869.5H476.8M482.8 869.5H485.1"/>
<path d="M484.7 867.5H487.0M493.0 867.5H495.3"/>
<path d="M494.9 867.5H497.2M503.2 867.5H505.5"/>
<path d="M505.1 866.5H507.4M513.4 866.5H515.7"/>
<path d="M515.3 863.5H517.6M523.6 863.5H525.9"/>
<path d="M525.5 861.5H527.8M533.8 861.5H536.1"/>
<path d="M535.8 857.5H538.0M544.0 857.5H546.3"/>
<path d="M546.0 855.5H548.3M554.3 855.5H556.6"/>
<path d="M556.2 851.5H558.5M564.5 851.5H566.8"/>
<path d="M566.4 845.5H568.7M574.7 845.5H577.0"/>
<path d="M576.6 839.5H578.9M584.9 839.5H587.2"/>
<path d="M586.8 833.5H589.1M595.1 833.5H597.4"/>
<path d="M597.0 825.5H599.3M605.3 825.5H607.6"/>
<path d="M607.2 817.5H609.5M615.5 817.5H617.8"/>
<path d="M617.4 809.5H619.7M625.7 809.5H628.0"/>
<path d="M627.6 799.5H629.9M635.9 799.5H638.2"/>
<path d="M637.8 788.5H640.1M646.1 788.5H648.4"/>
<path d="M648.0 779.5H650.3M656.3 779.5H658.6"/>
<path d="M658.2 768.5H660.5M666.5 768.5H668.8"/>
<path d="M668.4 753.5H670.7M676.7 753.5H679.0"/>
<path d="M678.7 737.5H681.0M687.0 737.5H689.3"/>
<path d="M688.9 745.5H691.2M697.2 745.5H699.5"/>
<path d="M699.1 746.5H701.4M707.4 746.5H709.7"/>
<path d="M709.3 749.5H711.6M717.6 749.5H719.9"/>
<path d="M719.5 750.5H721.8M727.8 750.5H730.1"/>
<path d="M729.7 746.5H732.0M738.0 746.5H740.3"/>
<path d="M739.9 753.5H742.2M748.2 753.5H750.5"/>
<path d="M750.1 753.5H752.4M758.4 753.5H760.7"/>
<path d="M760.3 757.5H762.6M768.6 757.5H770.9"/>
<path d="M765.5 750.2V754.2M765.5 760.2V761.2"/>
<path d="M770.5 763.5H772.8M778.8 763.5H781.1"/>
<path d="M775.5 756.2V760.2M775.5 766.2V770.3"/>
<path d="M780.7 769.5H783.0M789.0 769.5H791.3"/>
<path d="M786.5 760.2V766.5M786.5 772.5V778.3"/>
<path d="M790.9 771.5H793.2M799.2 771.5H801.5"/>
<path d="M796.5 762.2V768.5M796.5 774.5V777.3"/>
<path d="M801.1 772.5H803.4M809.4 772.5H811.7"/>
<path d="M811.4 752.5H813.7M819.7 752.5H822.0"/>
<path d="M821.6 759.5H823.9M829.9 759.5H832.2"/>
<path d="M831.8 710.5H834.1M840.1 710.5H842.4"/>
<path d="M842.0 765.5H844.3M850.3 765.5H852.6"/>
<path d="M852.2 720.5H854.5M860.5 720.5H862.8"/>
<path d="M857.5 671.0V717.7M857.5 723.7V769.0"/>
<path d="M862.4 761.5H864.7M870.7 761.5H873.0"/>
<path d="M867.5 700.2V758.2M867.5 764.2V822.5"/>
<path d="M872.6 668.5H874.9M880.9 668.5H883.2"/>
<path d="M877.5 558.8V665.3M877.5 671.3V777.0"/>
<path d="M882.8 703.5H885.1M891.1 703.5H893.4"/>
<path d="M888.5 592.8V700.6M888.5 706.6V814.5"/>
<path d="M893.0 636.5H895.3M901.3 636.5H903.6"/>
<path d="M898.5 436.0V633.1M898.5 639.1V843.6"/>
<path d="M903.2 496.5H905.5M911.5 496.5H913.8"/>
<path d="M908.5 216.9V493.4M908.5 499.4V775.9"/>
<path d="M913.4 761.5H915.7M921.7 761.5H924.0"/>
<path d="M933.8 544.5H936.1M942.1 544.5H944.4"/>
<path d="M964.5 863.5H966.8M972.8 863.5H975.1"/>
</g><g clip-path="url(#cpm)">
<path d="M128.4 737.6L136.0 737.6L132.2 745.2Z" fill="#009900"/>
<path d="M169.4 862.5L177.0 862.5L173.2 870.1Z" fill="#009900"/>
<path d="M179.4 801.2L187.0 801.2L183.2 808.8Z" fill="#009900"/>
<path d="M189.4 835.0L197.0 835.0L193.2 842.6Z" fill="#009900"/>
<path d="M200.4 867.7L208.0 867.7L204.2 875.3Z" fill="#009900"/>
<path d="M210.4 864.7L218.0 864.7L214.2 872.3Z" fill="#009900"/>
<path d="M220.4 869.7L228.0 869.7L224.2 877.3Z" fill="#009900"/>
<path d="M230.4 847.0L238.0 847.0L234.2 854.6Z" fill="#009900"/>
<path d="M241.4 863.7L249.0 863.7L245.2 871.3Z" fill="#009900"/>
<path d="M251.4 855.6L259.0 855.6L255.2 863.2Z" fill="#009900"/>
<path d="M261.4 857.4L269.0 857.4L265.2 865.0Z" fill="#009900"/>
<path d="M271.4 855.4L279.0 855.4L275.2 863.0Z" fill="#009900"/>
<path d="M281.4 862.5L289.0 862.5L285.2 870.1Z" fill="#009900"/>
<path d="M292.4 861.1L300.0 861.1L296.2 868.7Z" fill="#009900"/>
<path d="M302.4 851.4L310.0 851.4L306.2 859.0Z" fill="#009900"/>
<path d="M312.4 857.4L320.0 857.4L316.2 865.0Z" fill="#009900"/>
<path d="M322.4 862.5L330.0 862.5L326.2 870.1Z" fill="#009900"/>
<path d="M332.4 861.7L340.0 861.7L336.2 869.3Z" fill="#009900"/>
<path d="M343.4 861.7L351.0 861.7L347.2 869.3Z" fill="#009900"/>
<path d="M353.4 863.1L361.0 863.1L357.2 870.7Z" fill="#009900"/>
<path d="M363.4 866.5L371.0 866.5L367.2 874.1Z" fill="#009900"/>
<path d="M373.4 865.1L381.0 865.1L377.2 872.7Z" fill="#009900"/>
<path d="M383.4 863.1L391.0 863.1L387.2 870.7Z" fill="#009900"/>
<path d="M394.4 863.1L402.0 863.1L398.2 870.7Z" fill="#009900"/>
<path d="M404.4 865.1L412.0 865.1L408.2 872.7Z" fill="#009900"/>
<path d="M414.4 865.1L422.0 865.1L418.2 872.7Z" fill="#009900"/>
<path d="M424.4 869.5L432.0 869.5L428.2 877.1Z" fill="#009900"/>
<path d="M434.4 867.7L442.0 867.7L438.2 875.3Z" fill="#009900"/>
<path d="M445.4 867.7L453.0 867.7L449.2 875.3Z" fill="#009900"/>
<path d="M455.4 864.7L463.0 864.7L459.2 872.3Z" fill="#009900"/>
<path d="M465.4 865.1L473.0 865.1L469.2 872.7Z" fill="#009900"/>
<path d="M475.4 865.1L483.0 865.1L479.2 872.7Z" fill="#009900"/>
<path d="M486.4 863.7L494.0 863.7L490.2 871.3Z" fill="#009900"/>
<path d="M496.4 863.7L504.0 863.7L500.2 871.3Z" fill="#009900"/>
<path d="M506.4 862.5L514.0 862.5L510.2 870.1Z" fill="#009900"/>
<path d="M516.4 859.0L524.0 859.0L520.2 866.6Z" fill="#009900"/>
<path d="M526.4 857.0L534.0 857.0L530.2 864.6Z" fill="#009900"/>
<path d="M537.4 853.0L545.0 853.0L541.2 860.6Z" fill="#009900"/>
<path d="M547.4 851.0L555.0 851.0L551.2 858.6Z" fill="#009900"/>
<path d="M557.4 847.0L565.0 847.0L561.2 854.6Z" fill="#009900"/>
<path d="M567.4 841.6L575.0 841.6L571.2 849.2Z" fill="#009900"/>
<path d="M577.4 835.0L585.0 835.0L581.2 842.6Z" fill="#009900"/>
<path d="M588.4 828.9L596.0 828.9L592.2 836.5Z" fill="#009900"/>
<path d="M598.4 821.3L606.0 821.3L602.2 828.9Z" fill="#009900"/>
<path d="M608.4 813.3L616.0 813.3L612.2 820.9Z" fill="#009900"/>
<path d="M618.4 805.8L626.0 805.8L622.2 813.4Z" fill="#009900"/>
<path d="M628.4 795.2L636.0 795.2L632.2 802.8Z" fill="#009900"/>
<path d="M639.4 784.3L647.0 784.3L643.2 791.9Z" fill="#009900"/>
<path d="M649.4 775.3L657.0 775.3L653.2 782.9Z" fill="#009900"/>
<path d="M659.4 764.3L667.0 764.3L663.2 771.9Z" fill="#009900"/>
<path d="M669.4 749.6L677.0 749.6L673.2 757.2Z" fill="#009900"/>
<path d="M679.4 733.5L687.0 733.5L683.2 741.1Z" fill="#009900"/>
<path d="M690.4 741.2L698.0 741.2L694.2 748.8Z" fill="#009900"/>
<path d="M700.4 742.6L708.0 742.6L704.2 750.2Z" fill="#009900"/>
<path d="M710.4 745.2L718.0 745.2L714.2 752.8Z" fill="#009900"/>
<path d="M720.4 746.0L728.0 746.0L724.2 753.6Z" fill="#009900"/>
<path d="M730.4 742.6L738.0 742.6L734.2 750.2Z" fill="#009900"/>
<path d="M741.4 749.6L749.0 749.6L745.2 757.2Z" fill="#009900"/>
<path d="M751.4 749.6L759.0 749.6L755.2 757.2Z" fill="#009900"/>
<path d="M761.4 753.0L769.0 753.0L765.2 760.6Z" fill="#009900"/>
<path d="M771.4 759.0L779.0 759.0L775.2 766.6Z" fill="#009900"/>
<path d="M782.4 765.3L790.0 765.3L786.2 772.9Z" fill="#009900"/>
<path d="M792.4 767.3L800.0 767.3L796.2 774.9Z" fill="#009900"/>
<path d="M802.4 768.7L810.0 768.7L806.2 776.3Z" fill="#009900"/>
<path d="M812.4 748.0L820.0 748.0L816.2 755.6Z" fill="#009900"/>
<path d="M822.4 755.7L830.0 755.7L826.2 763.3Z" fill="#009900"/>
<path d="M833.4 706.0L841.0 706.0L837.2 713.6Z" fill="#009900"/>
<path d="M843.4 761.3L851.0 761.3L847.2 768.9Z" fill="#009900"/>
<path d="M853.4 716.5L861.0 716.5L857.2 724.1Z" fill="#009900"/>
<path d="M863.4 757.0L871.0 757.0L867.2 764.6Z" fill="#009900"/>
<path d="M873.4 664.1L881.0 664.1L877.2 671.7Z" fill="#009900"/>
<path d="M884.4 699.4L892.0 699.4L888.2 707.0Z" fill="#009900"/>
<path d="M894.4 631.9L902.0 631.9L898.2 639.5Z" fill="#009900"/>
<path d="M904.4 492.2L912.0 492.2L908.2 499.8Z" fill="#009900"/>
<path d="M914.4 757.2L922.0 757.2L918.2 764.8Z" fill="#009900"/>
<path d="M935.4 540.2L943.0 540.2L939.2 547.8Z" fill="#009900"/>
<path d="M965.4 859.0L973.0 859.0L969.2 866.6Z" fill="#009900"/>
</g>
<g stroke="#990099" stroke-width="1.15" fill="none" clip-path="url(#cp)">
<path d="M443.9 839.5H446.2M452.2 839.5H454.5"/>
<path d="M454.1 768.5H456.4M462.4 768.5H464.7"/>
<path d="M459.5 687.3V766.0M459.5 771.6V849.6"/>
<path d="M464.3 810.5H466.6M472.6 810.5H474.9"/>
<path d="M469.5 784.0V808.1M469.5 813.7V842.6"/>
<path d="M474.5 890.5H476.8M482.8 890.5H485.1"/>
<path d="M484.7 841.5H487.0M493.0 841.5H495.3"/>
<path d="M490.5 808.0V838.9M490.5 844.5V873.7"/>
<path d="M494.9 861.5H497.2M503.2 861.5H505.5"/>
<path d="M500.5 838.6V858.3M500.5 863.9V876.7"/>
<path d="M505.1 842.5H507.4M513.4 842.5H515.7"/>
<path d="M510.5 822.0V839.3M510.5 844.9V860.6"/>
<path d="M515.3 797.5H517.6M523.6 797.5H525.9"/>
<path d="M520.5 777.0V795.1M520.5 800.7V817.5"/>
<path d="M525.5 818.5H527.8M533.8 818.5H536.1"/>
<path d="M530.5 804.0V815.2M530.5 820.8V829.5"/>
<path d="M535.8 797.5H538.0M544.0 797.5H546.3"/>
<path d="M546.0 795.5H548.3M554.3 795.5H556.6"/>
<path d="M551.5 787.3V793.1M551.5 798.7V803.4"/>
<path d="M556.2 791.5H558.5M564.5 791.5H566.8"/>
<path d="M561.5 786.3V789.1M561.5 794.7V798.0"/>
<path d="M566.4 796.5H568.7M574.7 796.5H577.0"/>
<path d="M571.5 790.4V794.1M571.5 799.7V800.4"/>
<path d="M576.6 790.5H578.9M584.9 790.5H587.2"/>
<path d="M586.8 780.5H589.1M595.1 780.5H597.4"/>
<path d="M597.0 777.5H599.3M605.3 777.5H607.6"/>
<path d="M607.2 772.5H609.5M615.5 772.5H617.8"/>
<path d="M617.4 770.5H619.7M625.7 770.5H628.0"/>
<path d="M627.6 765.5H629.9M635.9 765.5H638.2"/>
<path d="M637.8 758.5H640.1M646.1 758.5H648.4"/>
<path d="M648.0 751.5H650.3M656.3 751.5H658.6"/>
<path d="M658.2 743.5H660.5M666.5 743.5H668.8"/>
<path d="M668.4 727.5H670.7M676.7 727.5H679.0"/>
<path d="M678.7 715.5H681.0M687.0 715.5H689.3"/>
<path d="M688.9 729.5H691.2M697.2 729.5H699.5"/>
<path d="M699.1 731.5H701.4M707.4 731.5H709.7"/>
<path d="M709.3 726.5H711.6M717.6 726.5H719.9"/>
<path d="M719.5 724.5H721.8M727.8 724.5H730.1"/>
<path d="M729.7 732.5H732.0M738.0 732.5H740.3"/>
<path d="M734.5 726.1V729.8M734.5 735.4V738.2"/>
<path d="M739.9 737.5H742.2M748.2 737.5H750.5"/>
<path d="M745.5 728.1V735.0M745.5 740.6V746.2"/>
<path d="M750.1 739.5H752.4M758.4 739.5H760.7"/>
<path d="M755.5 728.1V736.9M755.5 742.5V750.2"/>
<path d="M760.3 773.5H762.6M768.6 773.5H770.9"/>
<path d="M765.5 759.0V771.0M765.5 776.6V786.0"/>
<path d="M770.5 747.5H772.8M778.8 747.5H781.1"/>
<path d="M775.5 727.0V745.1M775.5 750.7V770.0"/>
<path d="M780.7 737.5H783.0M789.0 737.5H791.3"/>
<path d="M786.5 712.0V735.0M786.5 740.6V767.0"/>
<path d="M790.9 797.5H793.2M799.2 797.5H801.5"/>
<path d="M796.5 766.0V795.1M796.5 800.7V848.0"/>
<path d="M801.1 675.5H803.4M809.4 675.5H811.7"/>
<path d="M806.5 617.0V672.4M806.5 678.0V732.0"/>
<path d="M811.4 737.5H813.7M819.7 737.5H822.0"/>
<path d="M816.5 680.7V735.0M816.5 740.6V826.5"/>
<path d="M821.6 759.5H823.9M829.9 759.5H832.2"/>
<path d="M826.5 718.0V756.5M826.5 762.1V828.5"/>
<path d="M831.8 599.5H834.1M840.1 599.5H842.4"/>
<path d="M837.5 455.6V596.3M837.5 601.9V722.0"/>
<path d="M842.0 752.5H844.3M850.3 752.5H852.6"/>
<path d="M847.5 677.7V750.1M847.5 755.7V825.5"/>
<path d="M852.2 511.5H854.5M860.5 511.5H862.8"/>
<path d="M857.5 367.3V508.9M857.5 514.5V656.6"/>
<path d="M862.4 872.5H864.7M870.7 872.5H873.0"/>
<path d="M882.8 736.5H885.1M891.1 736.5H893.4"/>
<path d="M888.5 667.7V733.3M888.5 738.9V804.4"/>
<path d="M893.0 860.5H895.3M901.3 860.5H903.6"/>
<path d="M898.5 844.0V857.3"/>
<path d="M964.5 872.5H966.8M972.8 872.5H975.1"/>
</g><g clip-path="url(#cpm)">
<rect x="445.0" y="835.0" width="6.0" height="6.0" fill="#990099"/>
<rect x="455.0" y="764.1" width="6.0" height="6.0" fill="#990099"/>
<rect x="465.0" y="806.2" width="6.0" height="6.0" fill="#990099"/>
<rect x="475.0" y="886.2" width="6.0" height="6.0" fill="#990099"/>
<rect x="486.0" y="837.0" width="6.0" height="6.0" fill="#990099"/>
<rect x="496.0" y="856.4" width="6.0" height="6.0" fill="#990099"/>
<rect x="506.0" y="837.4" width="6.0" height="6.0" fill="#990099"/>
<rect x="516.0" y="793.2" width="6.0" height="6.0" fill="#990099"/>
<rect x="526.0" y="813.3" width="6.0" height="6.0" fill="#990099"/>
<rect x="537.0" y="792.4" width="6.0" height="6.0" fill="#990099"/>
<rect x="547.0" y="791.2" width="6.0" height="6.0" fill="#990099"/>
<rect x="557.0" y="787.2" width="6.0" height="6.0" fill="#990099"/>
<rect x="567.0" y="792.2" width="6.0" height="6.0" fill="#990099"/>
<rect x="577.0" y="786.2" width="6.0" height="6.0" fill="#990099"/>
<rect x="588.0" y="775.3" width="6.0" height="6.0" fill="#990099"/>
<rect x="598.0" y="772.3" width="6.0" height="6.0" fill="#990099"/>
<rect x="608.0" y="768.1" width="6.0" height="6.0" fill="#990099"/>
<rect x="618.0" y="765.3" width="6.0" height="6.0" fill="#990099"/>
<rect x="628.0" y="760.7" width="6.0" height="6.0" fill="#990099"/>
<rect x="639.0" y="754.2" width="6.0" height="6.0" fill="#990099"/>
<rect x="649.0" y="747.0" width="6.0" height="6.0" fill="#990099"/>
<rect x="659.0" y="739.2" width="6.0" height="6.0" fill="#990099"/>
<rect x="669.0" y="723.1" width="6.0" height="6.0" fill="#990099"/>
<rect x="679.0" y="711.1" width="6.0" height="6.0" fill="#990099"/>
<rect x="690.0" y="725.1" width="6.0" height="6.0" fill="#990099"/>
<rect x="700.0" y="727.1" width="6.0" height="6.0" fill="#990099"/>
<rect x="710.0" y="721.9" width="6.0" height="6.0" fill="#990099"/>
<rect x="720.0" y="720.1" width="6.0" height="6.0" fill="#990099"/>
<rect x="730.0" y="727.9" width="6.0" height="6.0" fill="#990099"/>
<rect x="741.0" y="733.1" width="6.0" height="6.0" fill="#990099"/>
<rect x="751.0" y="735.0" width="6.0" height="6.0" fill="#990099"/>
<rect x="761.0" y="769.1" width="6.0" height="6.0" fill="#990099"/>
<rect x="771.0" y="743.2" width="6.0" height="6.0" fill="#990099"/>
<rect x="782.0" y="733.1" width="6.0" height="6.0" fill="#990099"/>
<rect x="792.0" y="793.2" width="6.0" height="6.0" fill="#990099"/>
<rect x="802.0" y="670.5" width="6.0" height="6.0" fill="#990099"/>
<rect x="812.0" y="733.1" width="6.0" height="6.0" fill="#990099"/>
<rect x="822.0" y="754.6" width="6.0" height="6.0" fill="#990099"/>
<rect x="833.0" y="594.4" width="6.0" height="6.0" fill="#990099"/>
<rect x="843.0" y="748.2" width="6.0" height="6.0" fill="#990099"/>
<rect x="853.0" y="507.0" width="6.0" height="6.0" fill="#990099"/>
<rect x="863.0" y="868.1" width="6.0" height="6.0" fill="#990099"/>
<rect x="884.0" y="731.4" width="6.0" height="6.0" fill="#990099"/>
<rect x="894.0" y="855.4" width="6.0" height="6.0" fill="#990099"/>
<rect x="965.0" y="867.5" width="6.0" height="6.0" fill="#990099"/>
</g>
<g stroke="#66cccc" stroke-width="1.15" fill="none" clip-path="url(#cp)">
<path d="M362.2 891.5H364.5M370.5 891.5H372.8"/>
<path d="M464.3 894.5H466.6M472.6 894.5H474.9"/>
<path d="M474.5 837.5H476.8M482.8 837.5H485.1"/>
<path d="M484.7 892.5H487.0M493.0 892.5H495.3"/>
<path d="M494.9 884.5H497.2M503.2 884.5H505.5"/>
<path d="M500.5 878.7V881.9M500.5 887.9V889.8"/>
<path d="M505.1 879.5H507.4M513.4 879.5H515.7"/>
<path d="M515.3 860.5H517.6M523.6 860.5H525.9"/>
<path d="M520.5 849.6V857.2M520.5 863.2V869.7"/>
<path d="M525.5 855.5H527.8M533.8 855.5H536.1"/>
<path d="M530.5 846.6V852.4M530.5 858.4V864.7"/>
<path d="M535.8 855.5H538.0M544.0 855.5H546.3"/>
<path d="M546.0 842.5H548.3M554.3 842.5H556.6"/>
<path d="M551.5 836.5V839.8M551.5 845.8V848.6"/>
<path d="M556.2 849.5H558.5M564.5 849.5H566.8"/>
<path d="M566.4 852.5H568.7M574.7 852.5H577.0"/>
<path d="M576.6 846.5H578.9M584.9 846.5H587.2"/>
<path d="M586.8 849.5H589.1M595.1 849.5H597.4"/>
<path d="M597.0 840.5H599.3M605.3 840.5H607.6"/>
<path d="M607.2 842.5H609.5M615.5 842.5H617.8"/>
<path d="M617.4 838.5H619.7M625.7 838.5H628.0"/>
<path d="M627.6 837.5H629.9M635.9 837.5H638.2"/>
<path d="M637.8 835.5H640.1M646.1 835.5H648.4"/>
<path d="M648.0 832.5H650.3M656.3 832.5H658.6"/>
<path d="M658.2 832.5H660.5M666.5 832.5H668.8"/>
<path d="M668.4 826.5H670.7M676.7 826.5H679.0"/>
<path d="M678.7 819.5H681.0M687.0 819.5H689.3"/>
<path d="M688.9 820.5H691.2M697.2 820.5H699.5"/>
<path d="M699.1 816.5H701.4M707.4 816.5H709.7"/>
<path d="M709.3 814.5H711.6M717.6 814.5H719.9"/>
<path d="M719.5 806.5H721.8M727.8 806.5H730.1"/>
<path d="M729.7 811.5H732.0M738.0 811.5H740.3"/>
<path d="M734.5 806.4V808.2M734.5 814.2V816.5"/>
<path d="M739.9 797.5H742.2M748.2 797.5H750.5"/>
<path d="M745.5 790.4V795.0M745.5 801.0V804.4"/>
<path d="M750.1 813.5H752.4M758.4 813.5H760.7"/>
<path d="M755.5 806.4V810.2M755.5 816.2V821.5"/>
<path d="M760.3 810.5H762.6M768.6 810.5H770.9"/>
<path d="M765.5 800.4V807.6M765.5 813.6V821.5"/>
<path d="M770.5 796.5H772.8M778.8 796.5H781.1"/>
<path d="M775.5 780.3V793.6M775.5 799.6V811.4"/>
<path d="M780.7 819.5H783.0M789.0 819.5H791.3"/>
<path d="M786.5 801.4V816.3M786.5 822.3V838.6"/>
<path d="M790.9 818.5H793.2M799.2 818.5H801.5"/>
<path d="M796.5 796.4V815.7M796.5 821.7V848.6"/>
<path d="M801.1 786.5H803.4M809.4 786.5H811.7"/>
<path d="M806.5 744.0V783.5M806.5 789.5V829.5"/>
<path d="M811.4 797.5H813.7M819.7 797.5H822.0"/>
<path d="M816.5 768.0V794.6M816.5 800.6V826.5"/>
<path d="M821.6 819.5H823.9M829.9 819.5H832.2"/>
<path d="M826.5 791.4V816.7M826.5 822.7V838.6"/>
<path d="M831.8 772.5H834.1M840.1 772.5H842.4"/>
<path d="M837.5 723.0V769.5M837.5 775.5V822.5"/>
<path d="M842.0 880.5H844.3M850.3 880.5H852.6"/>
<path d="M847.5 870.7V877.5M847.5 883.5V889.8"/>
<path d="M852.2 877.5H854.5M860.5 877.5H862.8"/>
<path d="M857.5 870.7V874.9M857.5 880.9V889.8"/>
<path d="M872.6 888.5H874.9M880.9 888.5H883.2"/>
<path d="M877.5 882.7V886.0M877.5 892.0V893.8"/>
<path d="M882.8 576.5H885.1M891.1 576.5H893.4"/>
</g><g clip-path="url(#cpm)">
<path d="M365.1 886.7h3.2v2.4999999999999996h2.4999999999999996v3.2h-2.4999999999999996v2.4999999999999996h-3.2v-2.4999999999999996h-2.4999999999999996v-3.2h2.4999999999999996Z" fill="#66cccc"/>
<path d="M467.1 890.1h3.2v2.4999999999999996h2.4999999999999996v3.2h-2.4999999999999996v2.4999999999999996h-3.2v-2.4999999999999996h-2.4999999999999996v-3.2h2.4999999999999996Z" fill="#66cccc"/>
<path d="M477.1 832.8h3.2v2.4999999999999996h2.4999999999999996v3.2h-2.4999999999999996v2.4999999999999996h-3.2v-2.4999999999999996h-2.4999999999999996v-3.2h2.4999999999999996Z" fill="#66cccc"/>
<path d="M488.1 887.5h3.2v2.4999999999999996h2.4999999999999996v3.2h-2.4999999999999996v2.4999999999999996h-3.2v-2.4999999999999996h-2.4999999999999996v-3.2h2.4999999999999996Z" fill="#66cccc"/>
<path d="M498.1 880.0h3.2v2.4999999999999996h2.4999999999999996v3.2h-2.4999999999999996v2.4999999999999996h-3.2v-2.4999999999999996h-2.4999999999999996v-3.2h2.4999999999999996Z" fill="#66cccc"/>
<path d="M508.1 874.4h3.2v2.4999999999999996h2.4999999999999996v3.2h-2.4999999999999996v2.4999999999999996h-3.2v-2.4999999999999996h-2.4999999999999996v-3.2h2.4999999999999996Z" fill="#66cccc"/>
<path d="M518.1 855.3h3.2v2.4999999999999996h2.4999999999999996v3.2h-2.4999999999999996v2.4999999999999996h-3.2v-2.4999999999999996h-2.4999999999999996v-3.2h2.4999999999999996Z" fill="#66cccc"/>
<path d="M528.1 850.5h3.2v2.4999999999999996h2.4999999999999996v3.2h-2.4999999999999996v2.4999999999999996h-3.2v-2.4999999999999996h-2.4999999999999996v-3.2h2.4999999999999996Z" fill="#66cccc"/>
<path d="M539.1 850.9h3.2v2.4999999999999996h2.4999999999999996v3.2h-2.4999999999999996v2.4999999999999996h-3.2v-2.4999999999999996h-2.4999999999999996v-3.2h2.4999999999999996Z" fill="#66cccc"/>
<path d="M549.1 837.9h3.2v2.4999999999999996h2.4999999999999996v3.2h-2.4999999999999996v2.4999999999999996h-3.2v-2.4999999999999996h-2.4999999999999996v-3.2h2.4999999999999996Z" fill="#66cccc"/>
<path d="M559.1 844.9h3.2v2.4999999999999996h2.4999999999999996v3.2h-2.4999999999999996v2.4999999999999996h-3.2v-2.4999999999999996h-2.4999999999999996v-3.2h2.4999999999999996Z" fill="#66cccc"/>
<path d="M569.1 847.9h3.2v2.4999999999999996h2.4999999999999996v3.2h-2.4999999999999996v2.4999999999999996h-3.2v-2.4999999999999996h-2.4999999999999996v-3.2h2.4999999999999996Z" fill="#66cccc"/>
<path d="M579.1 841.3h3.2v2.4999999999999996h2.4999999999999996v3.2h-2.4999999999999996v2.4999999999999996h-3.2v-2.4999999999999996h-2.4999999999999996v-3.2h2.4999999999999996Z" fill="#66cccc"/>
<path d="M590.1 844.9h3.2v2.4999999999999996h2.4999999999999996v3.2h-2.4999999999999996v2.4999999999999996h-3.2v-2.4999999999999996h-2.4999999999999996v-3.2h2.4999999999999996Z" fill="#66cccc"/>
<path d="M600.1 835.5h3.2v2.4999999999999996h2.4999999999999996v3.2h-2.4999999999999996v2.4999999999999996h-3.2v-2.4999999999999996h-2.4999999999999996v-3.2h2.4999999999999996Z" fill="#66cccc"/>
<path d="M610.1 837.9h3.2v2.4999999999999996h2.4999999999999996v3.2h-2.4999999999999996v2.4999999999999996h-3.2v-2.4999999999999996h-2.4999999999999996v-3.2h2.4999999999999996Z" fill="#66cccc"/>
<path d="M620.1 833.9h3.2v2.4999999999999996h2.4999999999999996v3.2h-2.4999999999999996v2.4999999999999996h-3.2v-2.4999999999999996h-2.4999999999999996v-3.2h2.4999999999999996Z" fill="#66cccc"/>
<path d="M630.1 832.8h3.2v2.4999999999999996h2.4999999999999996v3.2h-2.4999999999999996v2.4999999999999996h-3.2v-2.4999999999999996h-2.4999999999999996v-3.2h2.4999999999999996Z" fill="#66cccc"/>
<path d="M641.1 830.4h3.2v2.4999999999999996h2.4999999999999996v3.2h-2.4999999999999996v2.4999999999999996h-3.2v-2.4999999999999996h-2.4999999999999996v-3.2h2.4999999999999996Z" fill="#66cccc"/>
<path d="M651.1 827.8h3.2v2.4999999999999996h2.4999999999999996v3.2h-2.4999999999999996v2.4999999999999996h-3.2v-2.4999999999999996h-2.4999999999999996v-3.2h2.4999999999999996Z" fill="#66cccc"/>
<path d="M661.1 827.8h3.2v2.4999999999999996h2.4999999999999996v3.2h-2.4999999999999996v2.4999999999999996h-3.2v-2.4999999999999996h-2.4999999999999996v-3.2h2.4999999999999996Z" fill="#66cccc"/>
<path d="M671.1 821.8h3.2v2.4999999999999996h2.4999999999999996v3.2h-2.4999999999999996v2.4999999999999996h-3.2v-2.4999999999999996h-2.4999999999999996v-3.2h2.4999999999999996Z" fill="#66cccc"/>
<path d="M681.1 814.8h3.2v2.4999999999999996h2.4999999999999996v3.2h-2.4999999999999996v2.4999999999999996h-3.2v-2.4999999999999996h-2.4999999999999996v-3.2h2.4999999999999996Z" fill="#66cccc"/>
<path d="M692.1 815.8h3.2v2.4999999999999996h2.4999999999999996v3.2h-2.4999999999999996v2.4999999999999996h-3.2v-2.4999999999999996h-2.4999999999999996v-3.2h2.4999999999999996Z" fill="#66cccc"/>
<path d="M702.1 811.8h3.2v2.4999999999999996h2.4999999999999996v3.2h-2.4999999999999996v2.4999999999999996h-3.2v-2.4999999999999996h-2.4999999999999996v-3.2h2.4999999999999996Z" fill="#66cccc"/>
<path d="M712.1 809.8h3.2v2.4999999999999996h2.4999999999999996v3.2h-2.4999999999999996v2.4999999999999996h-3.2v-2.4999999999999996h-2.4999999999999996v-3.2h2.4999999999999996Z" fill="#66cccc"/>
<path d="M722.1 801.7h3.2v2.4999999999999996h2.4999999999999996v3.2h-2.4999999999999996v2.4999999999999996h-3.2v-2.4999999999999996h-2.4999999999999996v-3.2h2.4999999999999996Z" fill="#66cccc"/>
<path d="M732.1 806.3h3.2v2.4999999999999996h2.4999999999999996v3.2h-2.4999999999999996v2.4999999999999996h-3.2v-2.4999999999999996h-2.4999999999999996v-3.2h2.4999999999999996Z" fill="#66cccc"/>
<path d="M743.1 793.1h3.2v2.4999999999999996h2.4999999999999996v3.2h-2.4999999999999996v2.4999999999999996h-3.2v-2.4999999999999996h-2.4999999999999996v-3.2h2.4999999999999996Z" fill="#66cccc"/>
<path d="M753.1 808.3h3.2v2.4999999999999996h2.4999999999999996v3.2h-2.4999999999999996v2.4999999999999996h-3.2v-2.4999999999999996h-2.4999999999999996v-3.2h2.4999999999999996Z" fill="#66cccc"/>
<path d="M763.1 805.7h3.2v2.4999999999999996h2.4999999999999996v3.2h-2.4999999999999996v2.4999999999999996h-3.2v-2.4999999999999996h-2.4999999999999996v-3.2h2.4999999999999996Z" fill="#66cccc"/>
<path d="M773.1 791.7h3.2v2.4999999999999996h2.4999999999999996v3.2h-2.4999999999999996v2.4999999999999996h-3.2v-2.4999999999999996h-2.4999999999999996v-3.2h2.4999999999999996Z" fill="#66cccc"/>
<path d="M784.1 814.4h3.2v2.4999999999999996h2.4999999999999996v3.2h-2.4999999999999996v2.4999999999999996h-3.2v-2.4999999999999996h-2.4999999999999996v-3.2h2.4999999999999996Z" fill="#66cccc"/>
<path d="M794.1 813.8h3.2v2.4999999999999996h2.4999999999999996v3.2h-2.4999999999999996v2.4999999999999996h-3.2v-2.4999999999999996h-2.4999999999999996v-3.2h2.4999999999999996Z" fill="#66cccc"/>
<path d="M804.1 781.6h3.2v2.4999999999999996h2.4999999999999996v3.2h-2.4999999999999996v2.4999999999999996h-3.2v-2.4999999999999996h-2.4999999999999996v-3.2h2.4999999999999996Z" fill="#66cccc"/>
<path d="M814.1 792.7h3.2v2.4999999999999996h2.4999999999999996v3.2h-2.4999999999999996v2.4999999999999996h-3.2v-2.4999999999999996h-2.4999999999999996v-3.2h2.4999999999999996Z" fill="#66cccc"/>
<path d="M824.1 814.8h3.2v2.4999999999999996h2.4999999999999996v3.2h-2.4999999999999996v2.4999999999999996h-3.2v-2.4999999999999996h-2.4999999999999996v-3.2h2.4999999999999996Z" fill="#66cccc"/>
<path d="M835.1 767.6h3.2v2.4999999999999996h2.4999999999999996v3.2h-2.4999999999999996v2.4999999999999996h-3.2v-2.4999999999999996h-2.4999999999999996v-3.2h2.4999999999999996Z" fill="#66cccc"/>
<path d="M845.1 875.6h3.2v2.4999999999999996h2.4999999999999996v3.2h-2.4999999999999996v2.4999999999999996h-3.2v-2.4999999999999996h-2.4999999999999996v-3.2h2.4999999999999996Z" fill="#66cccc"/>
<path d="M855.1 873.0h3.2v2.4999999999999996h2.4999999999999996v3.2h-2.4999999999999996v2.4999999999999996h-3.2v-2.4999999999999996h-2.4999999999999996v-3.2h2.4999999999999996Z" fill="#66cccc"/>
<path d="M875.1 884.1h3.2v2.4999999999999996h2.4999999999999996v3.2h-2.4999999999999996v2.4999999999999996h-3.2v-2.4999999999999996h-2.4999999999999996v-3.2h2.4999999999999996Z" fill="#66cccc"/>
<path d="M886.1 572.0h3.2v2.4999999999999996h2.4999999999999996v3.2h-2.4999999999999996v2.4999999999999996h-3.2v-2.4999999999999996h-2.4999999999999996v-3.2h2.4999999999999996Z" fill="#66cccc"/>
</g>
<g stroke="#ff0000" stroke-width="1.15" fill="none" clip-path="url(#cp)">
<path d="M535.8 813.5H539.5M542.5 813.5H546.3"/>
<path d="M541.5 754.8V811.6M541.5 815.6V872.7"/>
<path d="M556.2 895.5H560.0M563.0 895.5H566.8"/>
<path d="M566.4 857.5H570.2M573.2 857.5H577.0"/>
<path d="M571.5 828.0V855.3M571.5 859.3V887.8"/>
<path d="M576.6 888.5H580.4M583.4 888.5H587.2"/>
<path d="M581.5 885.3V886.9M581.5 890.9V892.5"/>
<path d="M586.8 883.5H590.6M593.6 883.5H597.4"/>
<path d="M592.5 879.0V881.8M592.5 885.8V889.0"/>
<path d="M597.0 886.5H600.8M603.8 886.5H607.6"/>
<path d="M602.5 882.8V884.4M602.5 888.4V890.0"/>
<path d="M607.2 886.5H611.0M614.0 886.5H617.8"/>
<path d="M612.5 882.8V884.4M612.5 888.4V890.0"/>
<path d="M617.4 883.5H621.2M624.2 883.5H628.0"/>
<path d="M622.5 878.0V881.8M622.5 885.8V890.0"/>
<path d="M627.6 869.5H631.4M634.4 869.5H638.2"/>
<path d="M632.5 855.6V867.8M632.5 871.8V880.7"/>
<path d="M637.8 869.5H641.6M644.6 869.5H648.4"/>
<path d="M643.5 863.6V867.8M643.5 871.8V875.7"/>
<path d="M648.0 881.5H651.8M654.8 881.5H658.6"/>
<path d="M653.5 877.8V879.4M653.5 883.4V885.0"/>
<path d="M658.2 872.5H662.0M665.0 872.5H668.8"/>
<path d="M663.5 867.7V870.0M663.5 874.0V878.7"/>
<path d="M668.4 867.5H672.2M675.2 867.5H679.0"/>
<path d="M673.5 861.6V865.0M673.5 869.0V872.7"/>
<path d="M678.7 870.5H682.5M685.5 870.5H689.3"/>
<path d="M683.5 866.7V868.4M683.5 872.4V874.7"/>
<path d="M688.9 872.5H692.7M695.7 872.5H699.5"/>
<path d="M694.5 868.8V870.4M694.5 874.4V876.0"/>
<path d="M699.1 874.5H702.9M705.9 874.5H709.7"/>
<path d="M704.5 870.8V872.4M704.5 876.4V878.0"/>
<path d="M709.3 869.5H713.1M716.1 869.5H719.9"/>
<path d="M714.5 863.6V867.0M714.5 871.0V874.7"/>
<path d="M719.5 870.5H723.3M726.3 870.5H730.1"/>
<path d="M724.5 866.8V868.4M724.5 872.4V874.0"/>
<path d="M729.7 860.5H733.5M736.5 860.5H740.3"/>
<path d="M734.5 854.6V858.9M734.5 862.9V867.7"/>
<path d="M739.9 860.5H743.7M746.7 860.5H750.5"/>
<path d="M745.5 853.6V858.3M745.5 862.3V866.7"/>
<path d="M750.1 870.5H753.9M756.9 870.5H760.7"/>
<path d="M755.5 864.6V868.4M755.5 872.4V874.7"/>
<path d="M760.3 875.5H764.1M767.1 875.5H770.9"/>
<path d="M765.5 872.2V873.8M765.5 877.8V879.4"/>
<path d="M770.5 869.5H774.3M777.3 869.5H781.1"/>
<path d="M775.5 860.6V867.8M775.5 871.8V878.7"/>
<path d="M780.7 868.5H784.5M787.5 868.5H791.3"/>
<path d="M786.5 860.6V866.4M786.5 870.4V876.7"/>
<path d="M790.9 877.5H794.7M797.7 877.5H801.5"/>
<path d="M796.5 870.7V875.0M796.5 879.0V884.7"/>
<path d="M801.1 865.5H804.9M807.9 865.5H811.7"/>
<path d="M806.5 854.6V863.4M806.5 867.4V877.7"/>
<path d="M811.4 865.5H815.2M818.2 865.5H822.0"/>
<path d="M816.5 852.6V863.4M816.5 867.4V876.7"/>
<path d="M821.6 846.5H825.4M828.4 846.5H832.2"/>
<path d="M826.5 830.5V844.7M826.5 848.7V861.6"/>
<path d="M831.8 860.5H835.6M838.6 860.5H842.4"/>
<path d="M837.5 849.6V858.3M837.5 862.3V873.7"/>
<path d="M842.0 850.5H845.8M848.8 850.5H852.6"/>
<path d="M847.5 830.5V848.3M847.5 852.3V870.7"/>
<path d="M852.2 849.5H856.0M859.0 849.5H862.8"/>
<path d="M857.5 831.5V847.9M857.5 851.9V870.7"/>
<path d="M862.4 861.5H866.2M869.2 861.5H873.0"/>
<path d="M867.5 839.6V859.3M867.5 863.3V883.7"/>
<path d="M872.6 869.5H876.4M879.4 869.5H883.2"/>
<path d="M877.5 855.6V867.4M877.5 871.4V882.7"/>
<path d="M882.8 866.5H886.6M889.6 866.5H893.4"/>
<path d="M888.5 846.6V864.4M888.5 868.4V885.7"/>
<path d="M893.0 871.5H896.8M899.8 871.5H903.6"/>
<path d="M898.5 860.6V869.4M898.5 873.4V885.7"/>
<path d="M903.2 888.5H907.0M910.0 888.5H913.8"/>
<path d="M908.5 884.9V886.5M908.5 890.5V892.1"/>
<path d="M913.4 889.5H917.2M920.2 889.5H924.0"/>
<path d="M918.5 885.5V887.1M918.5 891.1V892.7"/>
<path d="M923.6 892.5H927.4M930.4 892.5H934.2"/>
<path d="M928.5 888.9V890.5M928.5 894.5V896.1"/>
<path d="M933.8 890.5H937.6M940.6 890.5H944.4"/>
<path d="M939.5 886.9V888.5M939.5 892.5V894.1"/>
<path d="M944.0 882.5H947.8M950.8 882.5H954.6"/>
<path d="M949.5 873.7V880.4M949.5 884.4V890.8"/>
<path d="M954.3 879.5H958.1M961.1 879.5H964.9"/>
<path d="M959.5 867.7V877.4M959.5 881.4V890.8"/>
<path d="M964.5 880.5H968.3M971.3 880.5H975.1"/>
<path d="M969.5 874.7V878.8M969.5 882.8V885.7"/>
<path d="M974.7 838.5H978.5M981.5 838.5H985.3"/>
<path d="M979.5 801.0V836.7M979.5 840.7V878.7"/>
<path d="M984.9 893.5H988.7M991.7 893.5H995.5"/>
<path d="M995.1 889.5H998.9M1001.9 889.5H1005.7"/>
<path d="M1000.5 882.7V887.1M1000.5 891.1V895.8"/>
<path d="M1005.3 885.5H1009.1M1012.1 885.5H1015.9"/>
<path d="M1010.5 879.7V883.4M1010.5 887.4V890.8"/>
<path d="M1015.5 894.5H1019.3M1022.3 894.5H1026.1"/>
<path d="M1025.7 894.5H1029.5M1032.5 894.5H1036.3"/>
<path d="M1035.9 894.5H1039.7M1042.7 894.5H1046.5"/>
<path d="M1056.3 868.5H1060.1M1063.1 868.5H1066.9"/>
<path d="M1066.5 893.5H1070.3M1073.3 893.5H1077.1"/>
<path d="M1076.7 895.5H1080.5M1083.5 895.5H1087.3"/>
<path d="M1087.0 895.5H1090.8M1093.8 895.5H1097.6"/>
<path d="M1097.2 894.5H1101.0M1104.0 894.5H1107.8"/>
<path d="M1138.0 894.5H1141.8M1144.8 894.5H1148.6"/>
</g><g clip-path="url(#cpm)">
<path d="M538.3 816.3L544.7 816.3L541.5 810.5Z" fill="#ff0000"/>
<path d="M558.3 898.8L564.7 898.8L561.5 893.0Z" fill="#ff0000"/>
<path d="M568.3 860.0L574.7 860.0L571.5 854.2Z" fill="#ff0000"/>
<path d="M578.3 891.6L584.7 891.6L581.5 885.8Z" fill="#ff0000"/>
<path d="M589.3 886.5L595.7 886.5L592.5 880.7Z" fill="#ff0000"/>
<path d="M599.3 889.1L605.7 889.1L602.5 883.3Z" fill="#ff0000"/>
<path d="M609.3 889.1L615.7 889.1L612.5 883.3Z" fill="#ff0000"/>
<path d="M619.3 886.5L625.7 886.5L622.5 880.7Z" fill="#ff0000"/>
<path d="M629.3 872.5L635.7 872.5L632.5 866.7Z" fill="#ff0000"/>
<path d="M640.3 872.5L646.7 872.5L643.5 866.7Z" fill="#ff0000"/>
<path d="M650.3 884.1L656.7 884.1L653.5 878.3Z" fill="#ff0000"/>
<path d="M660.3 874.7L666.7 874.7L663.5 868.9Z" fill="#ff0000"/>
<path d="M670.3 869.7L676.7 869.7L673.5 863.9Z" fill="#ff0000"/>
<path d="M680.3 873.1L686.7 873.1L683.5 867.3Z" fill="#ff0000"/>
<path d="M691.3 875.1L697.7 875.1L694.5 869.3Z" fill="#ff0000"/>
<path d="M701.3 877.1L707.7 877.1L704.5 871.3Z" fill="#ff0000"/>
<path d="M711.3 871.7L717.7 871.7L714.5 865.9Z" fill="#ff0000"/>
<path d="M721.3 873.1L727.7 873.1L724.5 867.3Z" fill="#ff0000"/>
<path d="M731.3 863.6L737.7 863.6L734.5 857.8Z" fill="#ff0000"/>
<path d="M742.3 863.0L748.7 863.0L745.5 857.2Z" fill="#ff0000"/>
<path d="M752.3 873.1L758.7 873.1L755.5 867.3Z" fill="#ff0000"/>
<path d="M762.3 878.5L768.7 878.5L765.5 872.7Z" fill="#ff0000"/>
<path d="M772.3 872.5L778.7 872.5L775.5 866.7Z" fill="#ff0000"/>
<path d="M783.3 871.1L789.7 871.1L786.5 865.3Z" fill="#ff0000"/>
<path d="M793.3 879.7L799.7 879.7L796.5 873.9Z" fill="#ff0000"/>
<path d="M803.3 868.1L809.7 868.1L806.5 862.3Z" fill="#ff0000"/>
<path d="M813.3 868.1L819.7 868.1L816.5 862.3Z" fill="#ff0000"/>
<path d="M823.3 849.4L829.7 849.4L826.5 843.6Z" fill="#ff0000"/>
<path d="M834.3 863.0L840.7 863.0L837.5 857.2Z" fill="#ff0000"/>
<path d="M844.3 853.0L850.7 853.0L847.5 847.2Z" fill="#ff0000"/>
<path d="M854.3 852.6L860.7 852.6L857.5 846.8Z" fill="#ff0000"/>
<path d="M864.3 864.0L870.7 864.0L867.5 858.2Z" fill="#ff0000"/>
<path d="M874.3 872.1L880.7 872.1L877.5 866.3Z" fill="#ff0000"/>
<path d="M885.3 869.1L891.7 869.1L888.5 863.3Z" fill="#ff0000"/>
<path d="M895.3 874.1L901.7 874.1L898.5 868.3Z" fill="#ff0000"/>
<path d="M905.3 891.2L911.7 891.2L908.5 885.4Z" fill="#ff0000"/>
<path d="M915.3 891.8L921.7 891.8L918.5 886.0Z" fill="#ff0000"/>
<path d="M925.3 895.2L931.7 895.2L928.5 889.4Z" fill="#ff0000"/>
<path d="M936.3 893.2L942.7 893.2L939.5 887.4Z" fill="#ff0000"/>
<path d="M946.3 885.1L952.7 885.1L949.5 879.3Z" fill="#ff0000"/>
<path d="M956.3 882.1L962.7 882.1L959.5 876.3Z" fill="#ff0000"/>
<path d="M966.3 883.5L972.7 883.5L969.5 877.7Z" fill="#ff0000"/>
<path d="M976.3 841.4L982.7 841.4L979.5 835.6Z" fill="#ff0000"/>
<path d="M987.3 896.2L993.7 896.2L990.5 890.4Z" fill="#ff0000"/>
<path d="M997.3 891.8L1003.7 891.8L1000.5 886.0Z" fill="#ff0000"/>
<path d="M1007.3 888.1L1013.7 888.1L1010.5 882.3Z" fill="#ff0000"/>
<path d="M1017.3 898.2L1023.7 898.2L1020.5 892.4Z" fill="#ff0000"/>
<path d="M1028.3 898.2L1034.7 898.2L1031.5 892.4Z" fill="#ff0000"/>
<path d="M1038.3 898.2L1044.7 898.2L1041.5 892.4Z" fill="#ff0000"/>
<path d="M1058.3 870.7L1064.7 870.7L1061.5 864.9Z" fill="#ff0000"/>
<path d="M1068.3 896.6L1074.7 896.6L1071.5 890.8Z" fill="#ff0000"/>
<path d="M1079.3 898.8L1085.7 898.8L1082.5 893.0Z" fill="#ff0000"/>
<path d="M1089.3 898.8L1095.7 898.8L1092.5 893.0Z" fill="#ff0000"/>
<path d="M1099.3 897.8L1105.7 897.8L1102.5 892.0Z" fill="#ff0000"/>
<path d="M1140.3 897.8L1146.7 897.8L1143.5 892.0Z" fill="#ff0000"/>
</g>
</g>
<rect x="598.5" y="104.5" width="87.5" height="148" fill="#000"/>
<rect x="593.5" y="99.5" width="89" height="149.5" fill="#fff" stroke="#000" stroke-width="1"/>
<path d="M595.0 114.7L601.4 114.7L598.2 108.9Z" fill="#ff0000"/>
<text transform="translate(604.3,117.0) scale(1,1.02)" font-size="19.0">Electron</text>
<circle cx="598.2" cy="136.7" r="3.5" fill="#0000ff"/>
<text transform="translate(604.3,141.9) scale(1,1.02)" font-size="19.0">Muon</text>
<path d="M593.5 156.8L601.1 156.8L597.3 164.4Z" fill="#009900"/>
<text transform="translate(604.3,166.7) scale(1,1.02)" font-size="19.0">Pion</text>
<rect x="594.0" y="181.9" width="6.0" height="6.0" fill="#990099"/>
<text transform="translate(604.3,191.5) scale(1,1.02)" font-size="19.0">Kaon</text>
<path d="M595.9 206.2h3.2v2.4999999999999996h2.4999999999999996v3.2h-2.4999999999999996v2.4999999999999996h-3.2v-2.4999999999999996h-2.4999999999999996v-3.2h2.4999999999999996Z" fill="#66cccc"/>
<text transform="translate(604.3,216.4) scale(1,1.02)" font-size="19.0">Proton</text>
<path d="M598.2 232.9L600.9 236.1L598.2 239.3L595.5 236.1Z" fill="#000000"/>
<text transform="translate(604.3,241.2) scale(1,1.02)" font-size="19.0">Ghost</text>
<g stroke="#000" stroke-width="0.3">
<text transform="translate(122,907.1) scale(1,1.06)" font-size="28" text-anchor="end">0</text>
<text transform="translate(126.0,827.1) scale(1,1.06)" font-size="28" text-anchor="end">0.1</text>
<rect x="110.8" y="823.0" width="6.1" height="5.7" fill="#fff" stroke="none"/>
<rect x="121.1" y="823.0" width="5.8" height="5.7" fill="#fff" stroke="none"/>
<text transform="translate(122,748.1) scale(1,1.06)" font-size="28" text-anchor="end">0.2</text>
<text transform="translate(122,668.1) scale(1,1.06)" font-size="28" text-anchor="end">0.3</text>
<text transform="translate(122,588.1) scale(1,1.06)" font-size="28" text-anchor="end">0.4</text>
<text transform="translate(122,509.1) scale(1,1.06)" font-size="28" text-anchor="end">0.5</text>
<text transform="translate(122,429.1) scale(1,1.06)" font-size="28" text-anchor="end">0.6</text>
<text transform="translate(122,349.1) scale(1,1.06)" font-size="28" text-anchor="end">0.7</text>
<text transform="translate(122,269.1) scale(1,1.06)" font-size="28" text-anchor="end">0.8</text>
<text transform="translate(122,190.1) scale(1,1.06)" font-size="28" text-anchor="end">0.9</text>
<text transform="translate(126.0,110.1) scale(1,1.06)" font-size="28" text-anchor="end">1</text>
<rect x="110.8" y="106.0" width="6.1" height="5.7" fill="#fff" stroke="none"/>
<rect x="121.1" y="106.0" width="5.8" height="5.7" fill="#fff" stroke="none"/>
<text transform="translate(225.2,934.9) scale(1,1.06)" font-size="28" text-anchor="middle">−100</text>
<rect x="210.4" y="930.8" width="6.1" height="5.7" fill="#fff" stroke="none"/>
<rect x="220.7" y="930.8" width="5.8" height="5.7" fill="#fff" stroke="none"/>
<text transform="translate(453.5,934.9) scale(1,1.06)" font-size="28" text-anchor="middle">−50</text>
<text transform="translate(681.8,934.9) scale(1,1.06)" font-size="28" text-anchor="middle">0</text>
<text transform="translate(910.1,934.9) scale(1,1.06)" font-size="28" text-anchor="middle">50</text>
<text transform="translate(1138.4,934.9) scale(1,1.06)" font-size="28" text-anchor="middle">100</text>
<rect x="1115.4" y="930.8" width="6.1" height="5.7" fill="#fff" stroke="none"/>
<rect x="1125.7" y="930.8" width="5.8" height="5.7" fill="#fff" stroke="none"/>
</g>
<text transform="translate(1148,973.5) scale(1,1.07)" font-size="28" text-anchor="end" stroke="#000" stroke-width="0.3">Downstream Muon RichDLLe</text>
<text transform="translate(47.5,99.2) rotate(-90) scale(1,1.07)" font-size="28" text-anchor="end" stroke="#000" stroke-width="0.3">Downstream Muon MVA Output</text>
<text transform="translate(78,42) scale(1,1.06)" font-size="7.4" textLength="1118" lengthAdjust="spacingAndGlyphs">MVAVRichDLLe Muon Downstream | All NaturalMix AllPhysTracksInEvent:AllPhysTracksInEvent ReweightRICH2 EvalWithPreSel | Train:MC12MixtureGhosts GhF0.1 Eval:MC12MixtureGhosts | TMVA-Run2-NoTkLikCDVelodEdx | MLP Norm BP NCycles750 CE tanh SF1.2 CVTest15:1e-16 !UseReg</text>
</svg></body></html>
